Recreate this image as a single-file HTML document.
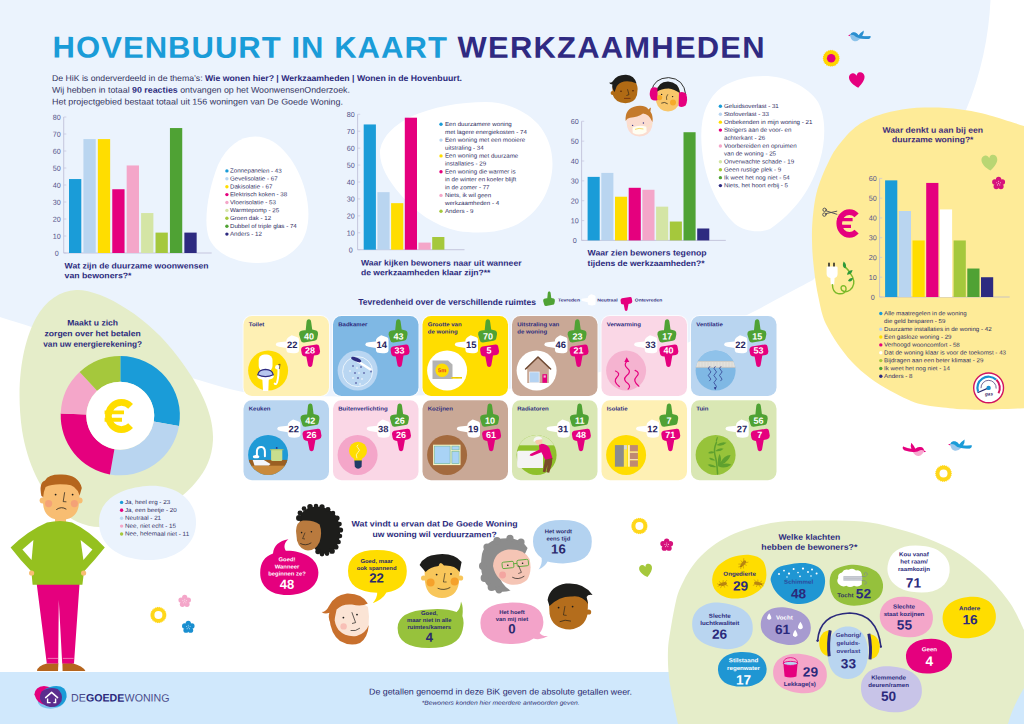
<!DOCTYPE html>
<html lang="nl"><head><meta charset="utf-8"><title>Hovenbuurt in kaart - Werkzaamheden</title>
<style>
html,body{margin:0;padding:0;background:#fff}
body{width:1024px;height:724px;overflow:hidden;position:relative;font-family:"Liberation Sans",sans-serif}
#pg{position:absolute;left:0;top:0;width:1024px;height:724px;overflow:hidden}
#pg svg{position:absolute;left:0;top:0}
.t{position:absolute;white-space:nowrap;transform-origin:0 50%;font-family:"Liberation Sans",sans-serif}
</style></head><body><div id="pg">
<svg width="1024" height="724" viewBox="0 0 1024 724">
<path d="M0 0H990.5C989 35 981 75 966 110L813 280C807.6 282.9 791.3 291.5 780.5 297.3C769.7 303.1 761.4 307.8 748.0 314.6C734.6 321.4 724.7 328.4 700.0 338.0C675.3 347.6 633.3 363.3 600.0 372.0C566.7 380.7 533.3 386.0 500.0 390.0C466.7 394.0 433.3 395.0 400.0 396.0C366.7 397.0 326.2 396.7 300.0 396.0C273.8 395.3 266.3 396.7 243.0 392.0C219.7 387.3 187.2 376.3 160.0 368.0C132.8 359.7 106.7 350.5 80.0 342.0C53.3 333.5 13.3 321.2 0.0 317.0Z" fill="#ebf3fd"/>
<path d="M255 136.5C280 136.5 298 165 305 190C311 212 309 232 300 244C290 257 275 263 258 263C235 263 215 253 209 238C203 222 208 190 218 165C227 146 240 136.5 255 136.5Z" fill="#fff"/>
<path d="M486 102C505 102 525 110 538 124C550 138 554 155 552 172C549 195 537 213 518 224C500 233 478 234 458 231C435 226 415 212 400 194C388 180 379 165 380 150C383 135 395 125 410 117C432 107 460 102 486 102Z" fill="#fff"/>
<path d="M764 76C785 76 808 86 818 102C826 116 826 140 820 160C812 188 795 212 770 229C760 233 745 232 735 224C718 208 705 180 702 150C699 120 705 100 722 87C735 79 750 76 764 76Z" fill="#fff"/>
<path d="M1030.0 128.0C1023.3 125.9 1001.5 118.5 990.0 115.4C978.5 112.3 970.5 110.8 960.7 109.5C950.9 108.2 941.2 107.6 931.4 107.6C921.6 107.6 911.8 107.9 902.0 109.5C892.2 111.1 880.9 114.0 872.8 117.3C864.7 120.5 859.3 123.9 853.3 129.0C847.2 134.1 840.5 142.7 836.5 148.0C832.5 153.3 831.4 156.2 829.0 161.0C826.6 165.8 824.1 171.2 822.0 176.6C819.9 181.9 817.9 187.6 816.5 193.1C815.1 198.6 814.3 204.4 813.6 209.7C812.9 215.0 812.5 219.9 812.2 225.0C811.9 230.1 811.9 234.4 812.0 240.0C812.1 245.6 812.3 251.5 812.9 258.3C813.5 265.1 814.5 274.1 815.5 281.0C816.5 287.9 817.8 294.3 819.0 300.0C820.2 305.7 821.2 310.7 822.5 315.0C823.8 319.3 824.5 321.2 827.0 326.0C829.5 330.8 833.5 337.9 837.7 343.9C841.9 349.9 846.6 356.2 852.0 361.9C857.4 367.6 863.7 373.2 870.0 378.0C876.3 382.8 883.5 387.0 889.8 390.6C896.1 394.2 902.8 397.4 907.8 399.6C912.8 401.8 914.1 402.7 920.0 404.0C925.9 405.3 933.9 406.6 943.0 407.5C952.1 408.4 960.3 409.6 974.8 409.7C989.3 409.8 1020.8 408.3 1030.0 408.0Z" fill="#feeb98"/>
<path d="M76 290C102 289 150 318 178 357C200 386 214 414 213 440C212 458 206 470 196 482C176 506 140 526 100 527C60 527 30 481 22 430C15 380 24 340 36 318C46 300 60 291 76 290Z" fill="#e5edc9"/>
<rect x="0" y="672" width="1024" height="52" fill="#d0e8fc"/>
<path d="M678.0 724.0C677.5 721.7 676.2 715.7 675.0 710.0C673.8 704.3 672.1 696.3 671.0 690.0C669.9 683.7 669.0 678.7 668.5 672.0C668.0 665.3 667.7 657.0 668.0 650.0C668.3 643.0 669.1 638.3 670.5 630.0C671.9 621.7 674.3 607.6 676.2 600.0C678.1 592.4 679.5 589.6 681.8 584.6C684.1 579.6 686.7 574.5 689.9 569.7C693.1 564.9 696.6 560.4 701.0 556.0C705.4 551.6 710.4 547.3 716.0 543.6C721.6 539.9 727.8 536.5 734.6 533.6C741.4 530.7 749.4 528.2 757.0 526.2C764.6 524.2 772.2 522.7 780.0 521.8C787.8 520.9 794.3 521.0 804.0 520.8C813.7 520.6 827.0 520.3 838.0 520.6C849.0 520.9 859.7 521.0 870.0 522.5C880.3 524.0 890.2 526.8 900.0 529.5C909.8 532.2 919.2 535.1 928.8 539.0C938.4 542.9 948.2 547.0 957.7 553.0C967.2 559.0 977.3 566.7 986.0 575.0C994.7 583.3 1003.7 593.8 1010.0 603.0C1016.3 612.2 1021.7 625.5 1024.0 630.0V688C1018 698 1011 712 1008 724Z" fill="#e5edc9"/>
<path d="M147 486C176 484 197 500 196 524C195 548 172 561 146 560C118 559 99 545 99 522C99 500 120 488 147 486Z" fill="#ebf3fd"/>
<path d="M63.7 117V253H211.7" fill="none" stroke="#b4b3d0" stroke-width="0.7"/>
<path d="M63.7 253.00h2.6" stroke="#c4c3dc" stroke-width="0.7"/>
<path d="M63.7 236.00h2.6" stroke="#c4c3dc" stroke-width="0.7"/>
<path d="M63.7 219.00h2.6" stroke="#c4c3dc" stroke-width="0.7"/>
<path d="M63.7 202.00h2.6" stroke="#c4c3dc" stroke-width="0.7"/>
<path d="M63.7 185.00h2.6" stroke="#c4c3dc" stroke-width="0.7"/>
<path d="M63.7 168.00h2.6" stroke="#c4c3dc" stroke-width="0.7"/>
<path d="M63.7 151.00h2.6" stroke="#c4c3dc" stroke-width="0.7"/>
<path d="M63.7 134.00h2.6" stroke="#c4c3dc" stroke-width="0.7"/>
<path d="M63.7 117.00h2.6" stroke="#c4c3dc" stroke-width="0.7"/>
<rect x="69.00" y="179.05" width="12.3" height="73.95" fill="#1a9cd8"/>
<rect x="83.42" y="139.10" width="12.3" height="113.90" fill="#b9d5f0"/>
<rect x="97.84" y="139.10" width="12.3" height="113.90" fill="#ffdd00"/>
<rect x="112.26" y="189.25" width="12.3" height="63.75" fill="#e5007e"/>
<rect x="126.68" y="165.45" width="12.3" height="87.55" fill="#f4a6c9"/>
<rect x="141.10" y="213.05" width="12.3" height="39.95" fill="#d4e5a5"/>
<rect x="155.52" y="232.60" width="12.3" height="20.40" fill="#a5c83c"/>
<rect x="169.94" y="128.05" width="12.3" height="124.95" fill="#4fa234"/>
<rect x="184.36" y="232.60" width="12.3" height="20.40" fill="#2d2a80"/>
<circle cx="226.9" cy="170.90" r="1.7" fill="#1a9cd8"/>
<circle cx="226.9" cy="178.80" r="1.7" fill="#b9d5f0"/>
<circle cx="226.9" cy="186.70" r="1.7" fill="#ffdd00"/>
<circle cx="226.9" cy="194.60" r="1.7" fill="#e5007e"/>
<circle cx="226.9" cy="202.50" r="1.7" fill="#f4a6c9"/>
<circle cx="226.9" cy="210.40" r="1.7" fill="#d4e5a5"/>
<circle cx="226.9" cy="218.30" r="1.7" fill="#a5c83c"/>
<circle cx="226.9" cy="226.20" r="1.7" fill="#4fa234"/>
<circle cx="226.9" cy="234.10" r="1.7" fill="#2d2a80"/>
<path d="M357.6 114.3V249.7H464.5" fill="none" stroke="#b4b3d0" stroke-width="0.7"/>
<path d="M357.6 249.70h2.6" stroke="#c4c3dc" stroke-width="0.7"/>
<path d="M357.6 232.77h2.6" stroke="#c4c3dc" stroke-width="0.7"/>
<path d="M357.6 215.85h2.6" stroke="#c4c3dc" stroke-width="0.7"/>
<path d="M357.6 198.92h2.6" stroke="#c4c3dc" stroke-width="0.7"/>
<path d="M357.6 182.00h2.6" stroke="#c4c3dc" stroke-width="0.7"/>
<path d="M357.6 165.07h2.6" stroke="#c4c3dc" stroke-width="0.7"/>
<path d="M357.6 148.15h2.6" stroke="#c4c3dc" stroke-width="0.7"/>
<path d="M357.6 131.22h2.6" stroke="#c4c3dc" stroke-width="0.7"/>
<path d="M357.6 114.30h2.6" stroke="#c4c3dc" stroke-width="0.7"/>
<rect x="363.70" y="124.45" width="12.2" height="125.24" fill="#1a9cd8"/>
<rect x="377.40" y="192.16" width="12.2" height="57.54" fill="#b9d5f0"/>
<rect x="391.10" y="203.16" width="12.2" height="46.54" fill="#ffdd00"/>
<rect x="404.80" y="117.69" width="12.2" height="132.01" fill="#e5007e"/>
<rect x="418.50" y="242.59" width="12.2" height="7.11" fill="#f4a6c9"/>
<rect x="432.20" y="237.01" width="12.2" height="12.69" fill="#a5c83c"/>
<circle cx="441" cy="124.30" r="1.7" fill="#1a9cd8"/>
<circle cx="441" cy="140.10" r="1.7" fill="#b9d5f0"/>
<circle cx="441" cy="155.90" r="1.7" fill="#ffdd00"/>
<circle cx="441" cy="171.70" r="1.7" fill="#e5007e"/>
<circle cx="441" cy="195.40" r="1.7" fill="#f4a6c9"/>
<circle cx="441" cy="211.20" r="1.7" fill="#a5c83c"/>
<path d="M581.6 121.3V240.4H725.8" fill="none" stroke="#b4b3d0" stroke-width="0.7"/>
<path d="M581.6 240.40h2.6" stroke="#c4c3dc" stroke-width="0.7"/>
<path d="M581.6 220.55h2.6" stroke="#c4c3dc" stroke-width="0.7"/>
<path d="M581.6 200.70h2.6" stroke="#c4c3dc" stroke-width="0.7"/>
<path d="M581.6 180.85h2.6" stroke="#c4c3dc" stroke-width="0.7"/>
<path d="M581.6 161.00h2.6" stroke="#c4c3dc" stroke-width="0.7"/>
<path d="M581.6 141.15h2.6" stroke="#c4c3dc" stroke-width="0.7"/>
<path d="M581.6 121.30h2.6" stroke="#c4c3dc" stroke-width="0.7"/>
<rect x="587.60" y="176.88" width="12.1" height="63.52" fill="#1a9cd8"/>
<rect x="601.30" y="172.91" width="12.1" height="67.49" fill="#b9d5f0"/>
<rect x="615.00" y="196.73" width="12.1" height="43.67" fill="#ffdd00"/>
<rect x="628.70" y="187.80" width="12.1" height="52.60" fill="#e5007e"/>
<rect x="642.40" y="189.78" width="12.1" height="50.62" fill="#f4a6c9"/>
<rect x="656.10" y="206.66" width="12.1" height="33.75" fill="#d4e5a5"/>
<rect x="669.80" y="221.54" width="12.1" height="18.86" fill="#a5c83c"/>
<rect x="683.50" y="132.22" width="12.1" height="108.18" fill="#4fa234"/>
<rect x="697.20" y="228.49" width="12.1" height="11.91" fill="#2d2a80"/>
<circle cx="720.4" cy="106.30" r="1.7" fill="#1a9cd8"/>
<circle cx="720.4" cy="114.23" r="1.7" fill="#b9d5f0"/>
<circle cx="720.4" cy="122.16" r="1.7" fill="#ffdd00"/>
<circle cx="720.4" cy="130.09" r="1.7" fill="#e5007e"/>
<circle cx="720.4" cy="145.95" r="1.7" fill="#f4a6c9"/>
<circle cx="720.4" cy="161.81" r="1.7" fill="#d4e5a5"/>
<circle cx="720.4" cy="169.74" r="1.7" fill="#a5c83c"/>
<circle cx="720.4" cy="177.67" r="1.7" fill="#4fa234"/>
<circle cx="720.4" cy="185.60" r="1.7" fill="#2d2a80"/>
<path d="M879.6 178.4V297H1009.7" fill="none" stroke="#b4b3d0" stroke-width="0.7"/>
<path d="M879.6 297.00h2.6" stroke="#c4c3dc" stroke-width="0.7"/>
<path d="M879.6 277.23h2.6" stroke="#c4c3dc" stroke-width="0.7"/>
<path d="M879.6 257.46h2.6" stroke="#c4c3dc" stroke-width="0.7"/>
<path d="M879.6 237.69h2.6" stroke="#c4c3dc" stroke-width="0.7"/>
<path d="M879.6 217.92h2.6" stroke="#c4c3dc" stroke-width="0.7"/>
<path d="M879.6 198.15h2.6" stroke="#c4c3dc" stroke-width="0.7"/>
<path d="M879.6 178.38h2.6" stroke="#c4c3dc" stroke-width="0.7"/>
<rect x="885.10" y="180.36" width="12.2" height="116.64" fill="#1a9cd8"/>
<rect x="898.80" y="211.00" width="12.2" height="86.00" fill="#b9d5f0"/>
<rect x="912.50" y="240.46" width="12.2" height="56.54" fill="#ffdd00"/>
<rect x="926.20" y="182.93" width="12.2" height="114.07" fill="#e5007e"/>
<rect x="939.90" y="209.42" width="12.2" height="87.58" fill="#fff"/>
<rect x="953.60" y="240.46" width="12.2" height="56.54" fill="#a5c83c"/>
<rect x="967.30" y="268.53" width="12.2" height="28.47" fill="#4fa234"/>
<rect x="981.00" y="277.23" width="12.2" height="19.77" fill="#2d2a80"/>
<circle cx="880.8" cy="313.50" r="1.7" fill="#1a9cd8"/>
<circle cx="880.8" cy="329.20" r="1.7" fill="#b9d5f0"/>
<circle cx="880.8" cy="337.05" r="1.7" fill="#ffdd00"/>
<circle cx="880.8" cy="344.90" r="1.7" fill="#e5007e"/>
<circle cx="880.8" cy="352.75" r="1.7" fill="#fff"/>
<circle cx="880.8" cy="360.60" r="1.7" fill="#a5c83c"/>
<circle cx="880.8" cy="368.45" r="1.7" fill="#4fa234"/>
<circle cx="880.8" cy="376.30" r="1.7" fill="#2d2a80"/>
<rect x="242.6" y="315.1" width="87.3" height="81.8" rx="9.4" fill="#fff" opacity="0.75"/>
<rect x="243.5" y="316" width="85.5" height="80" rx="8.5" fill="#fef0b4"/>
<g transform="translate(243.5 316)"><path d="M44.4 21.8Q46 20.4 48.2 19.2Q51 20 54.4 21.4Q55.6 22.2 55.5 24L55.5 34.4Q55.3 36.4 53.8 36.8Q49.4 38 44.2 36.6Q42.6 35.4 42.8 32L35.6 30.7Q32.1 30.1 32.3 28.3Q32.6 26.3 35.6 26.2L42.8 25.5Q42.8 23 44.4 21.8Z" fill="#fff"/><path d="M57.2 15Q59.5 14 62.2 14.3L63 6.2C63.1 4.4 64 3.3 65.4 3.3C66.8 3.3 67.6 4.4 67.7 6.2L68.7 13.6L72.6 14.6Q74.7 15.2 74.5 18.4L73.7 22.6Q73.3 24.4 71 24.7L60.5 26.5Q57.8 26.7 57.2 24L55.6 18.4Q55.4 15.8 57.2 15Z" fill="#4fa234"/><path d="M60 30.4L73 28.5Q75.4 28.3 75.7 30.5L76.6 35.4Q76.5 38.4 74 38.9L70.5 39.6L69 48.2C68.8 49.9 68 50.9 66.7 50.9C65.3 50.9 64.5 49.9 64.3 48.2L62.8 40.6L60.5 40.2Q58.4 39.8 58.2 37.5L57.6 34Q57.5 31 60 30.4Z" fill="#e5007e"/></g>
<g transform="translate(243.5 316)"><clipPath id="cl0"><circle cx="24.6" cy="54.6" r="20"/></clipPath><circle cx="24.6" cy="54.6" r="20" fill="#ffdd00"/><rect x="15.2" y="38.6" width="13.8" height="17" rx="5.5" fill="#fff"/><path d="M18.6 60H25.4L24.8 75H19.6Z" fill="#fff"/><ellipse cx="22" cy="60.4" rx="8.2" ry="3.6" fill="#fff"/><path d="M14.2 58.8Q15.5 53.6 22 53.4Q28.5 53.6 29.8 58.8Q22 62.5 14.2 58.8Z" fill="#b7c6ee" stroke="#2d2a80" stroke-width="1.1"/><path d="M34.8 50.5Q35.5 60 33.5 66.5Q32.5 69 31.2 67.6" fill="none" stroke="#fff" stroke-width="2" stroke-linecap="round"/><circle cx="33.8" cy="51.2" r="2.2" fill="#fff"/><path d="M34.6 48.8L36.6 48.2L35.8 53" fill="none" stroke="#3b2a5a" stroke-width="0.7"/></g>
<rect x="332.1" y="315.1" width="87.3" height="81.8" rx="9.4" fill="#fff" opacity="0.75"/>
<rect x="333.0" y="316" width="85.5" height="80" rx="8.5" fill="#7fb8e4"/>
<g transform="translate(333.0 316)"><path d="M44.4 21.8Q46 20.4 48.2 19.2Q51 20 54.4 21.4Q55.6 22.2 55.5 24L55.5 34.4Q55.3 36.4 53.8 36.8Q49.4 38 44.2 36.6Q42.6 35.4 42.8 32L35.6 30.7Q32.1 30.1 32.3 28.3Q32.6 26.3 35.6 26.2L42.8 25.5Q42.8 23 44.4 21.8Z" fill="#fff"/><path d="M57.2 15Q59.5 14 62.2 14.3L63 6.2C63.1 4.4 64 3.3 65.4 3.3C66.8 3.3 67.6 4.4 67.7 6.2L68.7 13.6L72.6 14.6Q74.7 15.2 74.5 18.4L73.7 22.6Q73.3 24.4 71 24.7L60.5 26.5Q57.8 26.7 57.2 24L55.6 18.4Q55.4 15.8 57.2 15Z" fill="#4fa234"/><path d="M60 30.4L73 28.5Q75.4 28.3 75.7 30.5L76.6 35.4Q76.5 38.4 74 38.9L70.5 39.6L69 48.2C68.8 49.9 68 50.9 66.7 50.9C65.3 50.9 64.5 49.9 64.3 48.2L62.8 40.6L60.5 40.2Q58.4 39.8 58.2 37.5L57.6 34Q57.5 31 60 30.4Z" fill="#e5007e"/></g>
<g transform="translate(333.0 316)"><clipPath id="cl1"><circle cx="24.6" cy="54.6" r="20"/></clipPath><circle cx="24.6" cy="54.6" r="20" fill="#b9d6f2"/><circle cx="24.6" cy="55.6" r="15" fill="none" stroke="#eef6fd" stroke-width="0.9"/><path d="M22 43.5L37.5 53.5" stroke="#fff" stroke-width="2.4" stroke-linecap="round"/><ellipse cx="23.2" cy="43.6" rx="5.4" ry="1.9" transform="rotate(22 23.2 43.6)" fill="#2d2a80"/><ellipse cx="20" cy="50" rx="0.55" ry="1" fill="#2d2a80"/><ellipse cx="24" cy="52" rx="0.55" ry="1" fill="#fff"/><ellipse cx="28" cy="51" rx="0.55" ry="1" fill="#2d2a80"/><ellipse cx="17" cy="55" rx="0.55" ry="1" fill="#fff"/><ellipse cx="22" cy="57" rx="0.55" ry="1" fill="#2d2a80"/><ellipse cx="26" cy="57" rx="0.55" ry="1" fill="#fff"/><ellipse cx="31" cy="57" rx="0.55" ry="1" fill="#2d2a80"/><ellipse cx="20" cy="62" rx="0.55" ry="1" fill="#fff"/><ellipse cx="25" cy="62" rx="0.55" ry="1" fill="#2d2a80"/><ellipse cx="29" cy="63" rx="0.55" ry="1" fill="#fff"/><ellipse cx="23" cy="67" rx="0.55" ry="1" fill="#2d2a80"/><ellipse cx="27" cy="68" rx="0.55" ry="1" fill="#fff"/><ellipse cx="38" cy="55.5" rx="0.55" ry="1" fill="#2d2a80"/></g>
<rect x="421.6" y="315.1" width="87.3" height="81.8" rx="9.4" fill="#fff" opacity="0.75"/>
<rect x="422.5" y="316" width="85.5" height="80" rx="8.5" fill="#ffdd00"/>
<g transform="translate(422.5 316)"><path d="M44.4 21.8Q46 20.4 48.2 19.2Q51 20 54.4 21.4Q55.6 22.2 55.5 24L55.5 34.4Q55.3 36.4 53.8 36.8Q49.4 38 44.2 36.6Q42.6 35.4 42.8 32L35.6 30.7Q32.1 30.1 32.3 28.3Q32.6 26.3 35.6 26.2L42.8 25.5Q42.8 23 44.4 21.8Z" fill="#fff"/><path d="M57.2 15Q59.5 14 62.2 14.3L63 6.2C63.1 4.4 64 3.3 65.4 3.3C66.8 3.3 67.6 4.4 67.7 6.2L68.7 13.6L72.6 14.6Q74.7 15.2 74.5 18.4L73.7 22.6Q73.3 24.4 71 24.7L60.5 26.5Q57.8 26.7 57.2 24L55.6 18.4Q55.4 15.8 57.2 15Z" fill="#4fa234"/><path d="M60 30.4L73 28.5Q75.4 28.3 75.7 30.5L76.6 35.4Q76.5 38.4 74 38.9L70.5 39.6L69 48.2C68.8 49.9 68 50.9 66.7 50.9C65.3 50.9 64.5 49.9 64.3 48.2L62.8 40.6L60.5 40.2Q58.4 39.8 58.2 37.5L57.6 34Q57.5 31 60 30.4Z" fill="#e5007e"/></g>
<g transform="translate(422.5 316)"><clipPath id="cl2"><circle cx="24.6" cy="54.6" r="20"/></clipPath><circle cx="24.6" cy="54.6" r="20" fill="#fff"/><path d="M10 44.5H25.5L30 48.5V63H10Z" fill="#b3b3b3"/><rect x="29" y="61" width="10.5" height="1.6" fill="#ffdd00"/><path d="M30 61.8h9" stroke="#8a7a20" stroke-width="0.5" stroke-dasharray="0.6 0.6"/><circle cx="19.6" cy="54.2" r="6.7" fill="#ffdd00"/></g>
<rect x="511.1" y="315.1" width="87.3" height="81.8" rx="9.4" fill="#fff" opacity="0.75"/>
<rect x="512.0" y="316" width="85.5" height="80" rx="8.5" fill="#c9a896"/>
<g transform="translate(512.0 316)"><path d="M44.4 21.8Q46 20.4 48.2 19.2Q51 20 54.4 21.4Q55.6 22.2 55.5 24L55.5 34.4Q55.3 36.4 53.8 36.8Q49.4 38 44.2 36.6Q42.6 35.4 42.8 32L35.6 30.7Q32.1 30.1 32.3 28.3Q32.6 26.3 35.6 26.2L42.8 25.5Q42.8 23 44.4 21.8Z" fill="#fff"/><path d="M57.2 15Q59.5 14 62.2 14.3L63 6.2C63.1 4.4 64 3.3 65.4 3.3C66.8 3.3 67.6 4.4 67.7 6.2L68.7 13.6L72.6 14.6Q74.7 15.2 74.5 18.4L73.7 22.6Q73.3 24.4 71 24.7L60.5 26.5Q57.8 26.7 57.2 24L55.6 18.4Q55.4 15.8 57.2 15Z" fill="#4fa234"/><path d="M60 30.4L73 28.5Q75.4 28.3 75.7 30.5L76.6 35.4Q76.5 38.4 74 38.9L70.5 39.6L69 48.2C68.8 49.9 68 50.9 66.7 50.9C65.3 50.9 64.5 49.9 64.3 48.2L62.8 40.6L60.5 40.2Q58.4 39.8 58.2 37.5L57.6 34Q57.5 31 60 30.4Z" fill="#e5007e"/></g>
<g transform="translate(512.0 316)"><clipPath id="cl3"><circle cx="24.6" cy="54.6" r="20"/></clipPath><circle cx="24.6" cy="54.6" r="20" fill="#fff"/><rect x="15.2" y="52" width="21.6" height="15" fill="#c9a896"/><path d="M13.6 53L26 41L38.6 53" fill="#c9a896" stroke="#6f4a33" stroke-width="1.6" stroke-linejoin="round" stroke-linecap="round"/><rect x="17.6" y="56" width="9.6" height="10.6" fill="#b5d3f2" stroke="#e9eef6" stroke-width="0.8"/><rect x="30.4" y="58.2" width="4.6" height="8.6" fill="#e5007e"/><rect x="31.6" y="59.4" width="2.2" height="2.2" fill="#f6b3d4"/></g>
<rect x="600.6" y="315.1" width="87.3" height="81.8" rx="9.4" fill="#fff" opacity="0.75"/>
<rect x="601.5" y="316" width="85.5" height="80" rx="8.5" fill="#fad7e6"/>
<g transform="translate(601.8 316)"><path d="M44.4 21.8Q46 20.4 48.2 19.2Q51 20 54.4 21.4Q55.6 22.2 55.5 24L55.5 34.4Q55.3 36.4 53.8 36.8Q49.4 38 44.2 36.6Q42.6 35.4 42.8 32L35.6 30.7Q32.1 30.1 32.3 28.3Q32.6 26.3 35.6 26.2L42.8 25.5Q42.8 23 44.4 21.8Z" fill="#fff"/><path d="M57.2 15Q59.5 14 62.2 14.3L63 6.2C63.1 4.4 64 3.3 65.4 3.3C66.8 3.3 67.6 4.4 67.7 6.2L68.7 13.6L72.6 14.6Q74.7 15.2 74.5 18.4L73.7 22.6Q73.3 24.4 71 24.7L60.5 26.5Q57.8 26.7 57.2 24L55.6 18.4Q55.4 15.8 57.2 15Z" fill="#4fa234"/><path d="M60 30.4L73 28.5Q75.4 28.3 75.7 30.5L76.6 35.4Q76.5 38.4 74 38.9L70.5 39.6L69 48.2C68.8 49.9 68 50.9 66.7 50.9C65.3 50.9 64.5 49.9 64.3 48.2L62.8 40.6L60.5 40.2Q58.4 39.8 58.2 37.5L57.6 34Q57.5 31 60 30.4Z" fill="#e5007e"/></g>
<g transform="translate(601.5 316)"><clipPath id="cl4"><circle cx="24.6" cy="54.6" r="20"/></clipPath><circle cx="24.6" cy="54.6" r="20" fill="#f5b3d0"/><path d="M14 55q5.6 2.4 1.4 6.2q-4.4 4.2 2.4 9.4" fill="none" stroke="#e5007e" stroke-width="1.2" stroke-linecap="round"/><path d="M25.4 45.4q-3.6 3.4 0.4 6.8q4.6 3.6 -0.8 7.6q-4.4 4 1.8 8q2.6 2.6 -0.2 5.4" fill="none" stroke="#e5007e" stroke-width="1.2" stroke-linecap="round"/><path d="M33.6 54.4q5.6 2.4 1.4 6.2q-4.4 4.2 2.4 9.6" fill="none" stroke="#e5007e" stroke-width="1.2" stroke-linecap="round"/><path d="M22.8 46L25.2 41.2L27.8 46Z" fill="#e5007e"/></g>
<rect x="690.1" y="315.1" width="87.3" height="81.8" rx="9.4" fill="#fff" opacity="0.75"/>
<rect x="691.0" y="316" width="85.5" height="80" rx="8.5" fill="#b9d5f0"/>
<g transform="translate(691.8 316)"><path d="M44.4 21.8Q46 20.4 48.2 19.2Q51 20 54.4 21.4Q55.6 22.2 55.5 24L55.5 34.4Q55.3 36.4 53.8 36.8Q49.4 38 44.2 36.6Q42.6 35.4 42.8 32L35.6 30.7Q32.1 30.1 32.3 28.3Q32.6 26.3 35.6 26.2L42.8 25.5Q42.8 23 44.4 21.8Z" fill="#fff"/><path d="M57.2 15Q59.5 14 62.2 14.3L63 6.2C63.1 4.4 64 3.3 65.4 3.3C66.8 3.3 67.6 4.4 67.7 6.2L68.7 13.6L72.6 14.6Q74.7 15.2 74.5 18.4L73.7 22.6Q73.3 24.4 71 24.7L60.5 26.5Q57.8 26.7 57.2 24L55.6 18.4Q55.4 15.8 57.2 15Z" fill="#4fa234"/><path d="M60 30.4L73 28.5Q75.4 28.3 75.7 30.5L76.6 35.4Q76.5 38.4 74 38.9L70.5 39.6L69 48.2C68.8 49.9 68 50.9 66.7 50.9C65.3 50.9 64.5 49.9 64.3 48.2L62.8 40.6L60.5 40.2Q58.4 39.8 58.2 37.5L57.6 34Q57.5 31 60 30.4Z" fill="#e5007e"/></g>
<g transform="translate(691.0 316)"><clipPath id="cl5"><circle cx="24.6" cy="54.6" r="20"/></clipPath><circle cx="24.6" cy="54.6" r="20" fill="#7fb8e4"/><g clip-path="url(#cl5)"><rect x="0" y="30" width="50" height="15.6" fill="#8fc2ea"/><rect x="0" y="45" width="50" height="6.6" fill="#e3e1dc"/><path d="M0 45.4H50M0 51.4H50" stroke="#b9b7b3" stroke-width="0.6"/><path d="M5 45v6.4M8 45v6.4M11 45v6.4M14 45v6.4M17 45v6.4M20 45v6.4M23 45v6.4M26 45v6.4M29 45v6.4M32 45v6.4M35 45v6.4M38 45v6.4M41 45v6.4M44 45v6.4" stroke="#cfcdc8" stroke-width="0.5"/></g><path d="M18.6 50.5q-2.6 1.8 0 3.6q2.6 1.8 0 3.6q-2.6 1.8 0 3.6q2.6 1.8 0 3.6" fill="none" stroke="#2d3a8c" stroke-width="0.75" stroke-linecap="round"/><path d="M24.200000000000003 50.5q-2.6 1.8 0 3.6q2.6 1.8 0 3.6q-2.6 1.8 0 3.6q2.6 1.8 0 3.6q-2.6 1.8 0 3.6q2.6 1.8 0 3.6" fill="none" stroke="#2d3a8c" stroke-width="0.75" stroke-linecap="round"/><path d="M29.8 50.5q-2.6 1.8 0 3.6q2.6 1.8 0 3.6q-2.6 1.8 0 3.6q2.6 1.8 0 3.6" fill="none" stroke="#2d3a8c" stroke-width="0.75" stroke-linecap="round"/><path d="M22.8 71.2L24.2 74L25.6 71.2Z" fill="#2d3a8c"/></g>
<rect x="242.6" y="399.40000000000003" width="87.3" height="81.8" rx="9.4" fill="#fff" opacity="0.75"/>
<rect x="243.5" y="400.3" width="85.5" height="80" rx="8.5" fill="#b9d5f0"/>
<g transform="translate(244.9 400.3)"><path d="M44.4 21.8Q46 20.4 48.2 19.2Q51 20 54.4 21.4Q55.6 22.2 55.5 24L55.5 34.4Q55.3 36.4 53.8 36.8Q49.4 38 44.2 36.6Q42.6 35.4 42.8 32L35.6 30.7Q32.1 30.1 32.3 28.3Q32.6 26.3 35.6 26.2L42.8 25.5Q42.8 23 44.4 21.8Z" fill="#fff"/><path d="M57.2 15Q59.5 14 62.2 14.3L63 6.2C63.1 4.4 64 3.3 65.4 3.3C66.8 3.3 67.6 4.4 67.7 6.2L68.7 13.6L72.6 14.6Q74.7 15.2 74.5 18.4L73.7 22.6Q73.3 24.4 71 24.7L60.5 26.5Q57.8 26.7 57.2 24L55.6 18.4Q55.4 15.8 57.2 15Z" fill="#4fa234"/><path d="M60 30.4L73 28.5Q75.4 28.3 75.7 30.5L76.6 35.4Q76.5 38.4 74 38.9L70.5 39.6L69 48.2C68.8 49.9 68 50.9 66.7 50.9C65.3 50.9 64.5 49.9 64.3 48.2L62.8 40.6L60.5 40.2Q58.4 39.8 58.2 37.5L57.6 34Q57.5 31 60 30.4Z" fill="#e5007e"/></g>
<g transform="translate(243.5 400.3)"><clipPath id="cl6"><circle cx="24.6" cy="54.6" r="20"/></clipPath><circle cx="24.6" cy="54.6" r="20" fill="#1f9ad6"/><g clip-path="url(#cl6)"><rect x="0" y="59.6" width="50" height="6.4" fill="#9a5f22"/><rect x="0" y="65.4" width="50" height="12" fill="#c98a3c"/></g><path d="M13.4 56.5V50.5Q13.8 46.4 18 46.6Q21.4 47 21.4 51.5V56" fill="none" stroke="#fff" stroke-width="2" stroke-linecap="round"/><path d="M9.2 59.6H20.4L27 63.6L25.4 65.2H11Z" fill="#f3f6fb"/><ellipse cx="12.6" cy="56.4" rx="3.2" ry="1.6" fill="#fff"/><rect x="27.6" y="49" width="11.2" height="11.8" rx="1.4" fill="#c9de8e"/><path d="M26.8 49.4H39.6" stroke="#a9c46a" stroke-width="1.1" stroke-linecap="round"/><circle cx="33.2" cy="47.6" r="0.9" fill="#2d2a80"/></g>
<rect x="332.1" y="399.40000000000003" width="87.3" height="81.8" rx="9.4" fill="#fff" opacity="0.75"/>
<rect x="333.0" y="400.3" width="85.5" height="80" rx="8.5" fill="#fad7e6"/>
<g transform="translate(334.4 400.3)"><path d="M44.4 21.8Q46 20.4 48.2 19.2Q51 20 54.4 21.4Q55.6 22.2 55.5 24L55.5 34.4Q55.3 36.4 53.8 36.8Q49.4 38 44.2 36.6Q42.6 35.4 42.8 32L35.6 30.7Q32.1 30.1 32.3 28.3Q32.6 26.3 35.6 26.2L42.8 25.5Q42.8 23 44.4 21.8Z" fill="#fff"/><path d="M57.2 15Q59.5 14 62.2 14.3L63 6.2C63.1 4.4 64 3.3 65.4 3.3C66.8 3.3 67.6 4.4 67.7 6.2L68.7 13.6L72.6 14.6Q74.7 15.2 74.5 18.4L73.7 22.6Q73.3 24.4 71 24.7L60.5 26.5Q57.8 26.7 57.2 24L55.6 18.4Q55.4 15.8 57.2 15Z" fill="#4fa234"/><path d="M60 30.4L73 28.5Q75.4 28.3 75.7 30.5L76.6 35.4Q76.5 38.4 74 38.9L70.5 39.6L69 48.2C68.8 49.9 68 50.9 66.7 50.9C65.3 50.9 64.5 49.9 64.3 48.2L62.8 40.6L60.5 40.2Q58.4 39.8 58.2 37.5L57.6 34Q57.5 31 60 30.4Z" fill="#e5007e"/></g>
<g transform="translate(333.0 400.3)"><clipPath id="cl7"><circle cx="24.6" cy="54.6" r="20"/></clipPath><circle cx="24.6" cy="54.6" r="20" fill="#f4a6c9"/><circle cx="25" cy="50.4" r="9" fill="#ffdd00"/><path d="M20.6 57H29.4L28.6 61H21.4Z" fill="#ffdd00"/><path d="M21.4 60.2H28.8L28.6 66.4Q25 70.4 21.8 66.4Z" fill="#1f3a66"/><path d="M24 58Q22 54 25 52Q28 50 25 47.6Q22.6 45.8 25.2 44.4" fill="none" stroke="#fff3a8" stroke-width="1"/></g>
<rect x="421.6" y="399.40000000000003" width="87.3" height="81.8" rx="9.4" fill="#fff" opacity="0.75"/>
<rect x="422.5" y="400.3" width="85.5" height="80" rx="8.5" fill="#c9a896"/>
<g transform="translate(424.5 400.3)"><path d="M44.4 21.8Q46 20.4 48.2 19.2Q51 20 54.4 21.4Q55.6 22.2 55.5 24L55.5 34.4Q55.3 36.4 53.8 36.8Q49.4 38 44.2 36.6Q42.6 35.4 42.8 32L35.6 30.7Q32.1 30.1 32.3 28.3Q32.6 26.3 35.6 26.2L42.8 25.5Q42.8 23 44.4 21.8Z" fill="#fff"/><path d="M57.2 15Q59.5 14 62.2 14.3L63 6.2C63.1 4.4 64 3.3 65.4 3.3C66.8 3.3 67.6 4.4 67.7 6.2L68.7 13.6L72.6 14.6Q74.7 15.2 74.5 18.4L73.7 22.6Q73.3 24.4 71 24.7L60.5 26.5Q57.8 26.7 57.2 24L55.6 18.4Q55.4 15.8 57.2 15Z" fill="#4fa234"/><path d="M60 30.4L73 28.5Q75.4 28.3 75.7 30.5L76.6 35.4Q76.5 38.4 74 38.9L70.5 39.6L69 48.2C68.8 49.9 68 50.9 66.7 50.9C65.3 50.9 64.5 49.9 64.3 48.2L62.8 40.6L60.5 40.2Q58.4 39.8 58.2 37.5L57.6 34Q57.5 31 60 30.4Z" fill="#e5007e"/></g>
<g transform="translate(422.5 400.3)"><clipPath id="cl8"><circle cx="24.6" cy="54.6" r="20"/></clipPath><circle cx="24.6" cy="54.6" r="20" fill="#a36a3e"/><rect x="10.6" y="44.4" width="27.4" height="20.4" fill="#f6f3c6"/><rect x="12" y="45.8" width="15.6" height="17.6" fill="#a9d3f5" stroke="#6fb59a" stroke-width="0.6"/><rect x="29.4" y="45.8" width="7.2" height="3.8" fill="#a9d3f5" stroke="#6fb59a" stroke-width="0.6"/><rect x="29.4" y="51.2" width="7.2" height="12.2" fill="#a9d3f5" stroke="#6fb59a" stroke-width="0.6"/></g>
<rect x="511.1" y="399.40000000000003" width="87.3" height="81.8" rx="9.4" fill="#fff" opacity="0.75"/>
<rect x="512.0" y="400.3" width="85.5" height="80" rx="8.5" fill="#d9e7b4"/>
<g transform="translate(514.3 400.3)"><path d="M44.4 21.8Q46 20.4 48.2 19.2Q51 20 54.4 21.4Q55.6 22.2 55.5 24L55.5 34.4Q55.3 36.4 53.8 36.8Q49.4 38 44.2 36.6Q42.6 35.4 42.8 32L35.6 30.7Q32.1 30.1 32.3 28.3Q32.6 26.3 35.6 26.2L42.8 25.5Q42.8 23 44.4 21.8Z" fill="#fff"/><path d="M57.2 15Q59.5 14 62.2 14.3L63 6.2C63.1 4.4 64 3.3 65.4 3.3C66.8 3.3 67.6 4.4 67.7 6.2L68.7 13.6L72.6 14.6Q74.7 15.2 74.5 18.4L73.7 22.6Q73.3 24.4 71 24.7L60.5 26.5Q57.8 26.7 57.2 24L55.6 18.4Q55.4 15.8 57.2 15Z" fill="#4fa234"/><path d="M60 30.4L73 28.5Q75.4 28.3 75.7 30.5L76.6 35.4Q76.5 38.4 74 38.9L70.5 39.6L69 48.2C68.8 49.9 68 50.9 66.7 50.9C65.3 50.9 64.5 49.9 64.3 48.2L62.8 40.6L60.5 40.2Q58.4 39.8 58.2 37.5L57.6 34Q57.5 31 60 30.4Z" fill="#e5007e"/></g>
<g transform="translate(512.0 400.3)"><clipPath id="cl9"><circle cx="24.6" cy="54.6" r="20"/></clipPath><circle cx="24.6" cy="54.6" r="20" fill="#8fc02b"/><g clip-path="url(#cl9)"><rect x="0" y="34" width="50" height="11" fill="#dbe9b8"/></g><path d="M6.4 50.4Q5.2 50.6 5.2 52V65.6Q5.4 67.6 7.4 67.6H31V50.4Z" fill="#f4f4f4"/><path d="M27 43.6Q33.6 42.6 37.4 47.6L40.6 58.4L33.4 60L29.4 52L20 55.6L17.6 55.2L18.4 53.6L27.4 49.2Z" fill="#e5007e"/><path d="M33 59.4L40.4 57.8L39.8 64L37.2 72.4L34.6 72L35.6 64.4L33.4 72L30.8 71.4Z" fill="#7a4a2a"/><circle cx="26.8" cy="40.8" r="3.6" fill="#f6c9a8"/><path d="M21.4 40.4Q22.2 36 27 36.2Q30 36.6 30.4 39L24.6 39.6L22 41.6Z" fill="#f7f7f7"/></g>
<rect x="600.6" y="399.40000000000003" width="87.3" height="81.8" rx="9.4" fill="#fff" opacity="0.75"/>
<rect x="601.5" y="400.3" width="85.5" height="80" rx="8.5" fill="#fef0b4"/>
<g transform="translate(603.7 400.3)"><path d="M44.4 21.8Q46 20.4 48.2 19.2Q51 20 54.4 21.4Q55.6 22.2 55.5 24L55.5 34.4Q55.3 36.4 53.8 36.8Q49.4 38 44.2 36.6Q42.6 35.4 42.8 32L35.6 30.7Q32.1 30.1 32.3 28.3Q32.6 26.3 35.6 26.2L42.8 25.5Q42.8 23 44.4 21.8Z" fill="#fff"/><path d="M57.2 15Q59.5 14 62.2 14.3L63 6.2C63.1 4.4 64 3.3 65.4 3.3C66.8 3.3 67.6 4.4 67.7 6.2L68.7 13.6L72.6 14.6Q74.7 15.2 74.5 18.4L73.7 22.6Q73.3 24.4 71 24.7L60.5 26.5Q57.8 26.7 57.2 24L55.6 18.4Q55.4 15.8 57.2 15Z" fill="#4fa234"/><path d="M60 30.4L73 28.5Q75.4 28.3 75.7 30.5L76.6 35.4Q76.5 38.4 74 38.9L70.5 39.6L69 48.2C68.8 49.9 68 50.9 66.7 50.9C65.3 50.9 64.5 49.9 64.3 48.2L62.8 40.6L60.5 40.2Q58.4 39.8 58.2 37.5L57.6 34Q57.5 31 60 30.4Z" fill="#e5007e"/></g>
<g transform="translate(601.5 400.3)"><clipPath id="cl10"><circle cx="24.6" cy="54.6" r="20"/></clipPath><circle cx="24.6" cy="54.6" r="20" fill="#ffdd00"/><rect x="13.4" y="44.8" width="9" height="21.6" fill="#8c8c8c"/><rect x="22.4" y="44.8" width="3" height="4.6" fill="#d9d9d9"/><rect x="22.4" y="49.4" width="3" height="17" fill="#ffe74a"/><rect x="26.4" y="44.8" width="2" height="21.6" fill="#fff4b8"/><rect x="28.4" y="44.8" width="8" height="6.4" fill="#c08a72"/><rect x="28.4" y="52.4" width="8" height="6.4" fill="#c08a72"/><rect x="28.4" y="60" width="8" height="6.4" fill="#c08a72"/><path d="M28.4 51.8h8M28.4 59.4h8" stroke="#f3e0b8" stroke-width="1.2"/></g>
<rect x="690.1" y="399.40000000000003" width="87.3" height="81.8" rx="9.4" fill="#fff" opacity="0.75"/>
<rect x="691.0" y="400.3" width="85.5" height="80" rx="8.5" fill="#d9e7b4"/>
<g transform="translate(693.2 400.3)"><path d="M44.4 21.8Q46 20.4 48.2 19.2Q51 20 54.4 21.4Q55.6 22.2 55.5 24L55.5 34.4Q55.3 36.4 53.8 36.8Q49.4 38 44.2 36.6Q42.6 35.4 42.8 32L35.6 30.7Q32.1 30.1 32.3 28.3Q32.6 26.3 35.6 26.2L42.8 25.5Q42.8 23 44.4 21.8Z" fill="#fff"/><path d="M57.2 15Q59.5 14 62.2 14.3L63 6.2C63.1 4.4 64 3.3 65.4 3.3C66.8 3.3 67.6 4.4 67.7 6.2L68.7 13.6L72.6 14.6Q74.7 15.2 74.5 18.4L73.7 22.6Q73.3 24.4 71 24.7L60.5 26.5Q57.8 26.7 57.2 24L55.6 18.4Q55.4 15.8 57.2 15Z" fill="#4fa234"/><path d="M60 30.4L73 28.5Q75.4 28.3 75.7 30.5L76.6 35.4Q76.5 38.4 74 38.9L70.5 39.6L69 48.2C68.8 49.9 68 50.9 66.7 50.9C65.3 50.9 64.5 49.9 64.3 48.2L62.8 40.6L60.5 40.2Q58.4 39.8 58.2 37.5L57.6 34Q57.5 31 60 30.4Z" fill="#e5007e"/></g>
<g transform="translate(691.0 400.3)"><clipPath id="cl11"><circle cx="24.6" cy="54.6" r="20"/></clipPath><circle cx="24.6" cy="54.6" r="20" fill="#97c33a"/><path d="M26.6 73.6Q26 62 24 55Q22.4 49 25.4 42.2" fill="none" stroke="#5fa02e" stroke-width="1.5" stroke-linecap="round"/><path d="M25 43Q28 36 26 36.6Q24 40 25 43ZM25.4 44.6Q31 40.6 35.6 42.4Q31 46.8 25.4 44.6ZM24.2 50.6Q28 47 32.6 48.4Q29 52 24.2 50.6ZM23.6 51.6Q19 50 17 52.6Q21 54.4 23.6 51.6Z" fill="#5fa02e"/><path d="M27.2 66Q26 58 28.6 53.6Q31 58 29.6 62Q33 55 39.6 54.6Q37.6 60.6 31.4 64Q36 62.4 40.4 64.4Q34 69 27.2 66Z" fill="#5fa02e"/><path d="M25.6 66.6Q20 62.6 16.6 64.4Q20 68 25.6 66.6ZM24.4 60Q20.6 56.6 18 57.6Q20 61 24.4 60Z" fill="#5fa02e"/></g>
<g transform="translate(508.7 289.5) scale(0.62)"><path d="M57.2 15Q59.5 14 62.2 14.3L63 6.2C63.1 4.4 64 3.3 65.4 3.3C66.8 3.3 67.6 4.4 67.7 6.2L68.7 13.6L72.6 14.6Q74.7 15.2 74.5 18.4L73.7 22.6Q73.3 24.4 71 24.7L60.5 26.5Q57.8 26.7 57.2 24L55.6 18.4Q55.4 15.8 57.2 15Z" fill="#4fa234"/></g>
<g transform="translate(561.2 282.3) scale(0.62)"><path d="M44.4 21.8Q46 20.4 48.2 19.2Q51 20 54.4 21.4Q55.6 22.2 55.5 24L55.5 34.4Q55.3 36.4 53.8 36.8Q49.4 38 44.2 36.6Q42.6 35.4 42.8 32L35.6 30.7Q32.1 30.1 32.3 28.3Q32.6 26.3 35.6 26.2L42.8 25.5Q42.8 23 44.4 21.8Z" fill="#fff"/></g>
<g transform="translate(584.8 279.4) scale(0.62)"><path d="M60 30.4L73 28.5Q75.4 28.3 75.7 30.5L76.6 35.4Q76.5 38.4 74 38.9L70.5 39.6L69 48.2C68.8 49.9 68 50.9 66.7 50.9C65.3 50.9 64.5 49.9 64.3 48.2L62.8 40.6L60.5 40.2Q58.4 39.8 58.2 37.5L57.6 34Q57.5 31 60 30.4Z" fill="#e5007e"/></g>
<path d="M120.30 356.10A59.6 59.6 0 0 1 178.99 426.05L153.78 421.60A34 34 0 0 0 120.30 381.70Z" fill="#1a9cd8"/>
<path d="M178.99 426.05A59.6 59.6 0 0 1 109.95 474.39L114.40 449.18A34 34 0 0 0 153.78 421.60Z" fill="#b9d5f0"/>
<path d="M109.95 474.39A59.6 59.6 0 0 1 60.74 413.62L86.32 414.51A34 34 0 0 0 114.40 449.18Z" fill="#e5007e"/>
<path d="M60.74 413.62A59.6 59.6 0 0 1 79.65 372.11L97.11 390.83A34 34 0 0 0 86.32 414.51Z" fill="#f4a6c9"/>
<path d="M79.65 372.11A59.6 59.6 0 0 1 120.30 356.10L120.30 381.70A34 34 0 0 0 97.11 390.83Z" fill="#a5c83c"/>
<circle cx="120.3" cy="415.7" r="34" fill="#fff"/>
<g fill="none" stroke="#ffdd00" stroke-linecap="butt"><path d="M130.6 406.4A13 13.6 0 1 0 130.6 425.6" stroke-width="6.6"/><path d="M104.6 412.4H124M104.6 419.8H122" stroke-width="3.9"/></g>
<circle cx="121.6" cy="502.40" r="1.7" fill="#1a9cd8"/>
<circle cx="121.6" cy="510.30" r="1.7" fill="#e5007e"/>
<circle cx="121.6" cy="518.20" r="1.7" fill="#b9d5f0"/>
<circle cx="121.6" cy="526.10" r="1.7" fill="#f4a6c9"/>
<circle cx="121.6" cy="534.00" r="1.7" fill="#a5c83c"/>
<g><path d="M37 671Q37.6 665.4 47 663.4L58.4 663.2L58 671Z" fill="#b5651d"/><path d="M62.4 663.2L72 663Q83 666 85.4 671H62.6Z" fill="#b5651d"/><path d="M36.6 583H79.6L74 663.6H62.2L58.8 600L58.2 663.6H46.8Z" fill="#e5007e"/><path d="M47.6 658.4H58M62.8 658.4H73.6" stroke="#f7a3cf" stroke-width="0.7"/><rect x="55" y="512" width="11" height="11" fill="#f8bd72"/><path d="M47 522.4Q60.4 519.4 72 522.4Q90 531 104.8 547.6Q95 560 84 571.4L82.4 584.8H32.6L31.4 571.4Q20 560 10.6 547.6Q27 531 47 522.4Z" fill="#95c11f"/><path d="M22.4 549.4L33.4 540L31.6 560Z" fill="#fff"/><path d="M92.4 549.4L80.6 540L83.4 560Z" fill="#fff"/><circle cx="31.6" cy="573" r="2.6" fill="#f8bd72"/><circle cx="83.6" cy="573" r="2.6" fill="#f8bd72"/><circle cx="42.6" cy="500.6" r="3" fill="#f8bd72"/><circle cx="79.6" cy="500.6" r="3" fill="#f8bd72"/><path d="M42.6 494Q42 478 61 477.6Q80 478 79.6 494L79 503Q78 519.6 61 520Q44 519.6 43 503Z" fill="#f8bd72"/><path d="M41.4 496Q38.6 482.6 45 480.4Q48.6 474 62 474.6Q78.6 475 81.8 488L79.6 495.4Q76.4 485 66.4 484.6Q53 483.4 45.6 487Q43.4 492 43.2 497Z" fill="#b5651d"/><circle cx="48.6" cy="503.6" r="3.6" fill="#f39a7a" opacity="0.75"/><circle cx="74.4" cy="503.6" r="3.6" fill="#f39a7a" opacity="0.75"/><circle cx="55.6" cy="494.6" r="0.9" fill="#1d1d1b"/><circle cx="72.6" cy="494.6" r="0.9" fill="#1d1d1b"/><path d="M64.6 492.6L63.2 501.6L66 501.8" fill="none" stroke="#1d1d1b" stroke-width="0.7" stroke-linecap="round" stroke-linejoin="round"/><path d="M56.6 509.4Q61.4 506 66 509" fill="none" stroke="#1d1d1b" stroke-width="0.8" stroke-linecap="round"/></g>
<path d="M273 553.4C273.6 546 279 540.6 288.4 539.2C284.4 542.4 283.4 546.6 285.8 550.8C302 550.4 318.4 558 318.4 572.4C318.4 588 303 595 287 595C270 595 260.2 586 260.2 573C260.2 562 265 556.4 273 553.4Z" fill="#e5007e"/>
<path d="M377 550Q406.8 550 406.8 571Q406.8 589.6 386.4 592.4Q383 599 372.8 603.2Q377.4 597.6 377.2 592.8Q348 591.6 348 571Q348 550 377 550Z" fill="#ffdd00"/>
<path d="M429 609.4Q446 608 456.6 612Q460.4 608.6 461 601.4Q463.6 607 462.4 616Q464.6 622 462.6 630Q459 648 429 648Q397.6 648 397.6 628Q397.6 610.6 429 609.4Z" fill="#97c23c"/>
<path d="M562 520Q591.8 520 591.8 541.6Q591.8 563 563 563.4Q553 563.4 547.6 561.6Q545 566.6 538.6 569.6Q542.6 563.6 541.6 558Q533 552 533 541.6Q533 520 562 520Z" fill="#b3d2f0"/>
<path d="M512.6 602.6Q543 602.6 543.4 622Q543.4 628.6 539.6 633Q542 636.6 548 636Q540.6 640.6 533.6 638.6Q526 644 512.6 644Q480.4 644 480.4 623Q480.4 602.6 512.6 602.6Z" fill="#f3a3c9"/>
<g><path d="M299.6 517Q303 507.6 316 506.6Q330 507 337 517Q342 528 339 541Q336 551 325 553.6Q318.6 554 315 549L300 524Z" fill="#1d1d1b"/><g fill="#1d1d1b"><circle cx="300" cy="513" r="2.46"/><circle cx="304" cy="508.6" r="2.32"/><circle cx="310" cy="506.6" r="2.72"/><circle cx="316" cy="506" r="2.26"/><circle cx="322" cy="507" r="2.63"/><circle cx="328" cy="509.6" r="2.49"/><circle cx="333" cy="513" r="2.25"/><circle cx="337" cy="518" r="2.61"/><circle cx="339.6" cy="524" r="2.23"/><circle cx="340.6" cy="530" r="2.55"/><circle cx="340" cy="536" r="2.26"/><circle cx="338.6" cy="542" r="2.27"/><circle cx="336" cy="547" r="2.54"/><circle cx="332" cy="551" r="2.86"/><circle cx="327" cy="553.6" r="2.30"/><circle cx="322" cy="554" r="2.38"/><circle cx="318" cy="551.6" r="2.70"/><circle cx="299" cy="518" r="2.96"/></g><path d="M296 531Q296.4 521.6 303 520.6Q313 519.6 319.6 524.6Q322.6 533 319.6 542Q315.6 550.6 308 550.6Q299.6 549.6 297 540.6Z" fill="#b97a3e"/><circle cx="301.6" cy="532.6" r="0.8" fill="#1d1d1b"/><circle cx="311.4" cy="531.8" r="0.8" fill="#1d1d1b"/><path d="M305 532.6L302.6 538.6L305 539" fill="none" stroke="#1d1d1b" stroke-width="0.6"/><path d="M300.6 543.6Q305.6 546.4 311 543" fill="none" stroke="#1d1d1b" stroke-width="0.7" stroke-linecap="round"/></g>
<g><path d="M333 618Q333 604 346 602Q360 600.6 368 607Q369.6 616 368.6 625Q366 634.6 357 637Q346 638 338.6 631.4Q333.4 626 333 618Z" fill="#fbe4d5"/><path d="M321.6 612Q326 612 329 606Q334 595 347 593.4Q362 593 367.8 603.4Q362 607 352 604.6Q342 603.6 336.6 609.6L334.4 620L329.8 621.4Q328 616 329.4 612.8Q325 614.6 321.6 612Z" fill="#c8702d"/><path d="M329.4 618Q330.6 634 340 641Q350 646.8 360 643Q367.8 638 368.8 625Q365.4 633.6 356.6 636Q345.6 637.4 338.6 630Q334.6 625 334.2 616.6Z" fill="#c8702d"/><circle cx="343.6" cy="626.4" r="3.2" fill="#f7b9b0" opacity="0.85"/><circle cx="343.4" cy="617.6" r="0.9" fill="#1d1d1b"/><circle cx="357" cy="614.6" r="0.9" fill="#1d1d1b"/><path d="M352 612.6L355.6 622.6L352.4 623.4" fill="none" stroke="#1d1d1b" stroke-width="0.7" stroke-linecap="round" stroke-linejoin="round"/><path d="M351 630.6Q355.6 631.6 359.6 628.4" fill="none" stroke="#1d1d1b" stroke-width="0.7" stroke-linecap="round"/></g>
<g><circle cx="423.6" cy="578" r="2.6" fill="#f8c65a"/><circle cx="460.6" cy="578" r="2.6" fill="#f8c65a"/><path d="M424.6 572Q424 558 442 557.6Q460 558 459.6 572L459 582Q457 597.6 442 598Q427 597.6 425 582Z" fill="#f8c65a"/><path d="M419.6 565Q424 555 437 554.4Q454 552.6 461.6 562L459.6 572Q455 565 444 565.6Q440 560 438.6 566Q430 567 425.6 572Z" fill="#1d1d1b"/><circle cx="430.6" cy="582.6" r="4" fill="#f59a23" opacity="0.85"/><circle cx="454.6" cy="581.6" r="4" fill="#f59a23" opacity="0.85"/><circle cx="436.6" cy="574.6" r="0.9" fill="#1d1d1b"/><circle cx="451" cy="574" r="0.9" fill="#1d1d1b"/><path d="M445 573L443.4 582L446.6 582" fill="none" stroke="#1d1d1b" stroke-width="0.6"/><path d="M438 588.4Q444 591 450 587.6" fill="none" stroke="#1d1d1b" stroke-width="0.7" stroke-linecap="round"/></g>
<g><path d="M482 554Q486 540 502 538.6Q520 536.6 527.6 548L524 556Q514 548 505 552Q497 558 497.6 572Q501 585 510.6 590.6Q499 593.6 490 588Q478 578 482 554Z" fill="#8c8c8c"/><circle cx="483" cy="566" r="4" fill="#8c8c8c"/><circle cx="484.6" cy="578" r="4" fill="#8c8c8c"/><circle cx="491.6" cy="587" r="4" fill="#8c8c8c"/><circle cx="487" cy="547" r="3.6" fill="#8c8c8c"/><circle cx="497" cy="540.6" r="3.6" fill="#8c8c8c"/><circle cx="510" cy="538.4" r="3.6" fill="#8c8c8c"/><circle cx="521" cy="542" r="3.6" fill="#8c8c8c"/><circle cx="499" cy="590" r="3.4" fill="#8c8c8c"/><path d="M493 566Q494 552 508 549.6Q524 548.6 529.6 559Q532.4 572 527 580Q520 586 510 584.6Q496 581 493 566Z" fill="#f5c5b5"/><circle cx="502.6" cy="575" r="3.4" fill="#f29a9a" opacity="0.75"/><g transform="rotate(-6 515 563)" fill="none" stroke="#5aaa3a" stroke-width="0.9"><rect x="502" y="561" width="11.6" height="6.4" rx="1.4"/><rect x="517" y="560.6" width="11.4" height="6.4" rx="1.4"/><path d="M513.6 563.6H517"/></g><circle cx="507.8" cy="565.2" r="0.8" fill="#1d1d1b"/><circle cx="522.6" cy="563.2" r="0.8" fill="#1d1d1b"/><path d="M518.6 565.6L521.4 572.4L518.6 573.4" fill="none" stroke="#1d1d1b" stroke-width="0.6" stroke-linecap="round" stroke-linejoin="round"/><path d="M512.6 577.4Q518 580.4 524 576.4" fill="none" stroke="#1d1d1b" stroke-width="0.7" stroke-linecap="round"/></g>
<g><circle cx="588.6" cy="612" r="2.6" fill="#b46d1c"/><path d="M549 603Q549 590 566 589Q586 588.6 588 603L587.6 614Q585 627.6 570 629.6Q552 628.6 549.6 614Z" fill="#b46d1c"/><path d="M547.6 600Q550 586 566 583.6Q584 582 592.6 595Q588 594 586.6 597L588 604Q582 595 572 596.6Q560 596 549.4 606Z" fill="#1d1d1b"/><circle cx="558.6" cy="607.6" r="0.9" fill="#1d1d1b"/><circle cx="572.6" cy="606.6" r="0.9" fill="#1d1d1b"/><path d="M565 606L563.4 615L566.6 615.4" fill="none" stroke="#1d1d1b" stroke-width="0.6"/><path d="M560 621.6Q565 619 570.6 621" fill="none" stroke="#1d1d1b" stroke-width="0.7" stroke-linecap="round"/></g>
<path d="M712.2 578.9C712.5 574.8 714.3 569.9 717.6 566.3C720.9 562.7 726.6 559.1 732.0 557.2C737.4 555.3 745.1 554.4 750.2 555.0C755.3 555.6 760.1 557.4 762.8 560.8C765.5 564.2 766.5 570.8 766.4 575.3C766.2 579.8 765.2 584.4 761.9 588.0C758.6 591.6 752.2 595.4 746.6 597.0C741.0 598.6 733.6 598.9 728.5 597.9C723.4 596.9 718.5 593.9 715.8 590.7C713.1 587.5 711.9 583.0 712.2 578.9Z" fill="#ffdd00"/>
<path d="M771.0 577.1C771.9 574.4 773.8 570.3 777.3 568.1C780.8 565.9 786.6 564.9 791.7 564.1C796.8 563.3 803.2 562.7 808.0 563.5C812.8 564.3 817.8 566.1 820.6 569.0C823.5 571.9 825.1 576.3 825.1 580.7C825.1 585.1 823.8 591.4 820.6 595.2C817.5 599.0 811.3 602.1 806.2 603.3C801.1 604.5 794.7 604.0 789.9 602.4C785.1 600.8 780.3 596.4 777.3 593.4C774.3 590.4 772.9 587.0 771.9 584.3C770.9 581.6 770.1 579.8 771.0 577.1Z" fill="#1f96d3"/>
<path d="M829.7 584.3C829.4 579.9 830.0 574.8 832.4 571.7C834.8 568.6 839.4 567.0 844.1 565.9C848.8 564.8 855.0 564.4 860.4 565.4C865.8 566.4 872.8 568.6 876.6 571.7C880.4 574.9 882.5 580.1 883.0 584.3C883.5 588.5 882.2 593.7 879.3 597.0C876.4 600.3 871.1 602.9 865.8 604.2C860.5 605.6 853.0 606.2 847.7 605.1C842.4 604.0 837.2 601.4 834.2 597.9C831.2 594.4 830.0 588.7 829.7 584.3Z" fill="#95c13c"/>
<path d="M922.33 545.50C937.88 545.50 949.70 554.43 949.70 567.88C949.70 583.57 937.88 592.50 914.87 592.50C899.32 592.50 887.50 583.57 887.50 570.12C887.50 554.43 899.32 545.50 922.33 545.50Z" fill="#fff" transform="rotate(8 918.6 569.0)"/>
<path d="M717.92 603.00C741.41 603.00 753.00 611.66 753.00 627.17C753.00 639.94 741.41 648.60 727.08 648.60C703.59 648.60 692.00 639.94 692.00 624.43C692.00 611.66 703.59 603.00 717.92 603.00Z" fill="#b9d5f0" transform="rotate(6 722.5 625.8)"/>
<path d="M782.78 607.80C801.42 607.80 811.00 614.75 811.00 627.01C811.00 637.45 801.42 644.40 788.82 644.40C770.18 644.40 760.60 637.45 760.60 625.19C760.60 614.75 770.18 607.80 782.78 607.80Z" fill="#a79bd0" transform="rotate(8 785.8 626.1)"/>
<path d="M847.80 626.60C860.32 626.60 868.00 636.54 868.00 652.75C868.00 668.96 860.32 678.90 847.80 678.90C835.28 678.90 827.60 668.96 827.60 652.75C827.60 636.54 835.28 626.60 847.80 626.60Z" fill="#b9d5f0"/>
<path d="M903.15 597.00C922.87 597.00 933.00 604.60 933.00 617.96C933.00 629.40 922.87 637.00 909.55 637.00C889.83 637.00 879.70 629.40 879.70 616.04C879.70 604.60 889.83 597.00 903.15 597.00Z" fill="#f4a6c9" transform="rotate(4 906.4 617.0)"/>
<path d="M971.97 597.00C985.85 597.00 996.00 604.79 996.00 616.70C996.00 630.21 985.85 638.00 966.63 638.00C952.75 638.00 942.60 630.21 942.60 618.30C942.60 604.79 952.75 597.00 971.97 597.00Z" fill="#ffdd00" transform="rotate(-6 969.3 617.5)"/>
<path d="M926.24 638.70C943.26 638.70 952.00 645.31 952.00 656.93C952.00 666.89 943.26 673.50 931.76 673.50C914.74 673.50 906.00 666.89 906.00 655.27C906.00 645.31 914.74 638.70 926.24 638.70Z" fill="#e5007e" transform="rotate(-8 929.0 656.1)"/>
<path d="M739.38 652.00C757.37 652.00 766.60 658.59 766.60 670.22C766.60 680.11 757.37 686.70 745.22 686.70C727.23 686.70 718.00 680.11 718.00 668.48C718.00 658.59 727.23 652.00 739.38 652.00Z" fill="#1f96d3" transform="rotate(-4 742.3 669.4)"/>
<path d="M797.30 654.00C816.74 654.00 827.00 661.41 827.00 674.31C827.00 685.59 816.74 693.00 802.70 693.00C783.26 693.00 773.00 685.59 773.00 672.69C773.00 661.41 783.26 654.00 797.30 654.00Z" fill="#f4a6c9" transform="rotate(5 800.0 673.5)"/>
<path d="M888.40 666.40C910.39 666.40 922.00 675.06 922.00 690.12C922.00 703.34 910.39 712.00 894.50 712.00C872.51 712.00 860.90 703.34 860.90 688.28C860.90 675.06 872.51 666.40 888.40 666.40Z" fill="#c8c4e8" transform="rotate(4 891.5 689.2)"/>
<path d="M817.6 640.8Q819.6 614 849.8 613Q877.4 614 880.8 646.6" fill="none" stroke="#2b2a7c" stroke-width="1.7" stroke-linecap="round"/><circle cx="817.6" cy="640.6" r="1.2" fill="#2b2a7c"/><circle cx="880.8" cy="646.6" r="1.2" fill="#2b2a7c"/>
<path d="M830.4 630.2Q820 630.6 819.2 643Q819.8 655.6 829.6 656.2Z" fill="#ffdd00"/><path d="M830.2 630.4Q827.6 643 829.2 656.2" fill="none" stroke="#2b2a7c" stroke-width="3"/>
<path d="M868.4 633.8Q879 634.6 879.8 647Q879 658.8 869.6 659.4Z" fill="#ffdd00"/><path d="M868.8 633.8Q871.4 646.6 870 659.4" fill="none" stroke="#2b2a7c" stroke-width="3"/>
<circle cx="779" cy="574" r="1" fill="#fff"/>
<circle cx="784" cy="570.6" r="0.9" fill="#fff"/>
<circle cx="789" cy="573.6" r="1.1" fill="#fff"/>
<circle cx="793.6" cy="569" r="1" fill="#fff"/>
<circle cx="798" cy="572.6" r="0.8" fill="#fff"/>
<circle cx="803" cy="568.6" r="1.1" fill="#fff"/>
<circle cx="808" cy="572" r="0.9" fill="#fff"/>
<circle cx="812" cy="569.6" r="1" fill="#fff"/>
<circle cx="816.6" cy="573.6" r="1" fill="#fff"/>
<circle cx="800" cy="576.4" r="0.8" fill="#fff"/>
<circle cx="787" cy="577" r="0.7" fill="#fff"/>
<circle cx="811" cy="576" r="0.8" fill="#fff"/>
<path d="M769.2 613.2Q771.8000000000001 617.2 771.2 618.6Q769.2 621.0 767.2 618.6Q766.6 617.2 769.2 613.2Z" fill="#fff"/>
<path d="M800.4 621.69Q803.39 626.2900000000001 802.6999999999999 627.9Q800.4 630.66 798.1 627.9Q797.41 626.2900000000001 800.4 621.69Z" fill="#fff"/>
<path d="M795.2 629.66Q798.0600000000001 634.06 797.4000000000001 635.6Q795.2 638.24 793.0 635.6Q792.34 634.06 795.2 629.66Z" fill="#fff"/>
<path d="M838.6 584Q836.2 581 838.2 578Q837.4 573.4 842 572.4Q844 568.4 848.6 569.8Q852.6 567.4 856 570.4Q860.8 569.8 861.8 574.4L861.8 584.6Q858 587.8 854 585.8Q850 588.2 846.4 585.8Q842 587.8 838.6 584Z" fill="#fff"/>
<rect x="843.4" y="576.2" width="18.8" height="4.4" fill="#b4b8c2"/><path d="M843.4 577.7H862.2M843.4 579.2H862.2" stroke="#e9ebf0" stroke-width="0.5"/>
<path d="M862.2 576.6Q866.6 577.4 867.4 574.8Q867.6 572.4 865.4 572.4Q863.8 572.8 864.4 574.4M862.2 580.4Q866 580 866.6 582.6Q866.4 584.6 864.6 584.2" fill="none" stroke="#7d8596" stroke-width="0.6" stroke-linecap="round"/>
<path d="M783.4 663.4H797.6L796.4 676.6Q790.6 678.4 784.6 676.6Z" fill="#e5007e"/><ellipse cx="790.5" cy="663.4" rx="7.1" ry="2" fill="#b9d5f0" stroke="#e5007e" stroke-width="0.9"/><path d="M783.4 663.6Q783 658 790.5 657.6Q798 658 797.6 663.6" fill="none" stroke="#e5007e" stroke-width="0.8"/>
<g transform="translate(743.4 563.4) rotate(-50)"><ellipse cx="0" cy="0" rx="3.6" ry="1.7" fill="#b8860f"/><circle cx="-3.8" cy="0" r="1" fill="#a87a0c"/><path d="M-2 -1.4L-3.8 -3.4M0 -1.6L0.6 -3.8M2 -1.4L4.2 -3M-2 1.4L-3.8 3.4M0 1.6L0.6 3.8M2 1.4L4.2 3M-4.6 -0.4L-6 -1.6M-4.6 0.4L-6 1.6" stroke="#b8860f" stroke-width="0.55"/></g>
<g transform="translate(723.4 584) rotate(-12)"><ellipse cx="0" cy="0" rx="3.6" ry="1.7" fill="#b8860f"/><circle cx="-3.8" cy="0" r="1" fill="#a87a0c"/><path d="M-2 -1.4L-3.8 -3.4M0 -1.6L0.6 -3.8M2 -1.4L4.2 -3M-2 1.4L-3.8 3.4M0 1.6L0.6 3.8M2 1.4L4.2 3M-4.6 -0.4L-6 -1.6M-4.6 0.4L-6 1.6" stroke="#b8860f" stroke-width="0.55"/></g>
<g transform="translate(757.6 583.4) rotate(192)"><ellipse cx="0" cy="0" rx="3.6" ry="1.7" fill="#b8860f"/><circle cx="-3.8" cy="0" r="1" fill="#a87a0c"/><path d="M-2 -1.4L-3.8 -3.4M0 -1.6L0.6 -3.8M2 -1.4L4.2 -3M-2 1.4L-3.8 3.4M0 1.6L0.6 3.8M2 1.4L4.2 3M-4.6 -0.4L-6 -1.6M-4.6 0.4L-6 1.6" stroke="#b8860f" stroke-width="0.55"/></g>
<g><path d="M38 703Q36 694 44 689.6Q54 685.6 62 687.6Q67.6 691 66 699Q63 707.6 53 708.6Q42 709.6 38 703Z" fill="#7cc4ee"/><path d="M34.4 694.6Q35 686.6 44 686Q53 686.6 54.6 693Q55 703.6 47.6 705.6Q37 704.6 34.4 694.6Z" fill="#e5007e"/><path d="M44 690Q52 684.6 60.6 686.4Q67.4 689 66.6 697Q64.6 705.6 56 707Q46 707.6 42.6 701Q40.6 694 44 690Z" fill="#1a9cd8"/><path d="M41.6 691.6Q49 686 57.6 689Q63.6 693.6 61.6 701Q58 707.6 50 707Q42 705.6 40 699Q39.6 694.6 41.6 691.6Z" fill="#5b2d8e"/><path d="M45.6 697.6L51.6 692.4L57.6 697.6" fill="none" stroke="#fff" stroke-width="1.5" stroke-linecap="round" stroke-linejoin="round"/><path d="M47.6 698.4V702.6H50.6M53.4 702.6H55.6V698.4" fill="none" stroke="#fff" stroke-width="1.4"/></g>
<g transform="translate(847.6 30) rotate(0) scale(0.95)"><path d="M0.4 5.6L3 4.8L2.8 6.6Z" fill="#e5007e"/><path d="M2.6 5.2Q4 1.2 8 2.6Q10 3.4 11.6 5.4Q17 7 24 6.2Q24.6 8.6 22 9.4Q16 9.6 13.6 9Q10 12.6 6.6 11.6Q3 10 2.6 5.2Z" fill="#8cc3ea"/><path d="M2.6 5.2Q4 1.2 8 2.6Q10 3.4 11.6 5.4Q13.6 2.6 17 0.4Q17.4 3.6 15.4 6.4Q20 7 24 6.2Q24.6 8.6 22 9.4Q16 9.6 13.4 9Q9 8.6 6.6 5.6Q4.6 4.6 2.6 5.2Z" fill="#2a8fd0"/></g>
<path d="M839.80 58.30L838.88 59.23L839.55 60.36L838.44 61.04L838.81 62.30L837.57 62.70L837.64 64.00L836.33 64.09L836.09 65.38L834.80 65.15L834.25 66.34L833.05 65.82L832.24 66.84L831.20 66.04L830.16 66.84L829.35 65.82L828.15 66.34L827.60 65.15L826.31 65.38L826.07 64.09L824.76 64.00L824.83 62.70L823.59 62.30L823.96 61.04L822.85 60.36L823.52 59.23L822.60 58.30L823.52 57.37L822.85 56.24L823.96 55.56L823.59 54.30L824.83 53.90L824.76 52.60L826.07 52.51L826.31 51.22L827.60 51.45L828.15 50.26L829.35 50.78L830.16 49.76L831.20 50.56L832.24 49.76L833.05 50.78L834.25 50.26L834.80 51.45L836.09 51.22L836.33 52.51L837.64 52.60L837.57 53.90L838.81 54.30L838.44 55.56L839.55 56.24L838.88 57.37Z" fill="#ffd500"/><circle cx="831.2" cy="58.3" r="0" fill="#fff"/>
<circle cx="831.2" cy="58.3" r="4.3" fill="#e5007e"/>
<g transform="translate(849.4 72.6) rotate(-8 7.8 7.6) scale(15.6 15.2)"><path d="M0.5 1C0.2 0.78 0 0.52 0 0.3C0 0.1 0.14 0 0.27 0C0.38 0 0.46 0.07 0.5 0.2C0.54 0.07 0.62 0 0.73 0C0.86 0 1 0.1 1 0.3C1 0.52 0.8 0.78 0.5 1Z" fill="#e5007e"/></g>
<g transform="translate(981.8 155.2) rotate(-6 7.9 7.7) scale(15.8 15.4)"><path d="M0.5 1C0.2 0.78 0 0.52 0 0.3C0 0.1 0.14 0 0.27 0C0.38 0 0.46 0.07 0.5 0.2C0.54 0.07 0.62 0 0.73 0C0.86 0 1 0.1 1 0.3C1 0.52 0.8 0.78 0.5 1Z" fill="#b9d673"/></g>
<g fill="#d6127c"><circle cx="998.60" cy="179.34" r="2.71"/><circle cx="1002.37" cy="182.08" r="2.71"/><circle cx="1000.93" cy="186.50" r="2.71"/><circle cx="996.27" cy="186.50" r="2.71"/><circle cx="994.83" cy="182.08" r="2.71"/><circle cx="998.6" cy="183.3" r="3.30"/></g>
<g fill="#f7b3d6"><circle cx="998.60" cy="181.32" r="0.56"/><circle cx="1000.48" cy="182.69" r="0.56"/><circle cx="999.76" cy="184.90" r="0.56"/><circle cx="997.44" cy="184.90" r="0.56"/><circle cx="996.72" cy="182.69" r="0.56"/><circle cx="998.6" cy="183.3" r="0.66"/></g>
<g transform="translate(904.6 440.6) rotate(14) translate(24.0 0) scale(-1.0 1.0)"><path d="M0.4 5.6L3 4.8L2.8 6.6Z" fill="#e5007e"/><path d="M2.6 5.2Q4 1.2 8 2.6Q10 3.4 11.6 5.4Q17 7 24 6.2Q24.6 8.6 22 9.4Q16 9.6 13.6 9Q10 12.6 6.6 11.6Q3 10 2.6 5.2Z" fill="#f7a8cf"/><path d="M2.6 5.2Q4 1.2 8 2.6Q10 3.4 11.6 5.4Q13.6 2.6 17 0.4Q17.4 3.6 15.4 6.4Q20 7 24 6.2Q24.6 8.6 22 9.4Q16 9.6 13.4 9Q9 8.6 6.6 5.6Q4.6 4.6 2.6 5.2Z" fill="#e5007e"/></g>
<g transform="translate(947.6 439) rotate(0) scale(1.0)"><path d="M0.4 5.6L3 4.8L2.8 6.6Z" fill="#e5007e"/><path d="M2.6 5.2Q4 1.2 8 2.6Q10 3.4 11.6 5.4Q17 7 24 6.2Q24.6 8.6 22 9.4Q16 9.6 13.6 9Q10 12.6 6.6 11.6Q3 10 2.6 5.2Z" fill="#9cc8ec"/><path d="M2.6 5.2Q4 1.2 8 2.6Q10 3.4 11.6 5.4Q13.6 2.6 17 0.4Q17.4 3.6 15.4 6.4Q20 7 24 6.2Q24.6 8.6 22 9.4Q16 9.6 13.4 9Q9 8.6 6.6 5.6Q4.6 4.6 2.6 5.2Z" fill="#1a9cd8"/></g>
<path d="M952.00 473.50L951.09 474.42L951.75 475.53L950.65 476.21L951.03 477.45L949.80 477.85L949.86 479.14L948.57 479.23L948.33 480.50L947.06 480.27L946.51 481.45L945.33 480.93L944.52 481.94L943.50 481.15L942.48 481.94L941.67 480.93L940.49 481.45L939.94 480.27L938.67 480.50L938.43 479.23L937.14 479.14L937.20 477.85L935.97 477.45L936.35 476.21L935.25 475.53L935.91 474.42L935.00 473.50L935.91 472.58L935.25 471.47L936.35 470.79L935.97 469.55L937.20 469.15L937.14 467.86L938.43 467.77L938.67 466.50L939.94 466.73L940.49 465.55L941.67 466.07L942.48 465.06L943.50 465.85L944.52 465.06L945.33 466.07L946.51 465.55L947.06 466.73L948.33 466.50L948.57 467.77L949.86 467.86L949.80 469.15L951.03 469.55L950.65 470.79L951.75 471.47L951.09 472.58Z" fill="#ffd71a"/><circle cx="943.5" cy="473.5" r="4" fill="#fff"/>
<path d="M647.80 526.00L646.90 526.91L647.56 528.01L646.47 528.68L646.84 529.90L645.62 530.29L645.69 531.57L644.41 531.66L644.17 532.91L642.91 532.69L642.38 533.85L641.21 533.34L640.41 534.34L639.40 533.56L638.39 534.34L637.59 533.34L636.42 533.85L635.89 532.69L634.63 532.91L634.39 531.66L633.11 531.57L633.18 530.29L631.96 529.90L632.33 528.68L631.24 528.01L631.90 526.91L631.00 526.00L631.90 525.09L631.24 523.99L632.33 523.32L631.96 522.10L633.18 521.71L633.11 520.43L634.39 520.34L634.63 519.09L635.89 519.31L636.42 518.15L637.59 518.66L638.39 517.66L639.40 518.44L640.41 517.66L641.21 518.66L642.38 518.15L642.91 519.31L644.17 519.09L644.41 520.34L645.69 520.43L645.62 521.71L646.84 522.10L646.47 523.32L647.56 523.99L646.90 525.09Z" fill="#ffd71a"/><circle cx="639.4" cy="526" r="4" fill="#fff"/>
<g fill="#d6127c"><circle cx="666.70" cy="541.10" r="2.67"/><circle cx="670.41" cy="543.79" r="2.67"/><circle cx="668.99" cy="548.16" r="2.67"/><circle cx="664.41" cy="548.16" r="2.67"/><circle cx="662.99" cy="543.79" r="2.67"/><circle cx="666.7" cy="545" r="3.25"/></g>
<g fill="#f7b3d6"><circle cx="666.70" cy="543.05" r="0.55"/><circle cx="668.55" cy="544.40" r="0.55"/><circle cx="667.85" cy="546.58" r="0.55"/><circle cx="665.55" cy="546.58" r="0.55"/><circle cx="664.85" cy="544.40" r="0.55"/><circle cx="666.7" cy="545" r="0.65"/></g>
<g transform="translate(639.6 564.2) rotate(-12 6.5 6.5) scale(13 13)"><path d="M0.5 1C0.2 0.78 0 0.52 0 0.3C0 0.1 0.14 0 0.27 0C0.38 0 0.46 0.07 0.5 0.2C0.54 0.07 0.62 0 0.73 0C0.86 0 1 0.1 1 0.3C1 0.52 0.8 0.78 0.5 1Z" fill="#a5c83c"/></g>
<path d="M166.70 615.00L165.82 615.90L166.46 616.99L165.38 617.65L165.75 618.86L164.55 619.24L164.61 620.50L163.35 620.59L163.11 621.83L161.87 621.61L161.34 622.76L160.19 622.25L159.40 623.24L158.40 622.47L157.40 623.24L156.61 622.25L155.46 622.76L154.93 621.61L153.69 621.83L153.45 620.59L152.19 620.50L152.25 619.24L151.05 618.86L151.42 617.65L150.34 616.99L150.98 615.90L150.10 615.00L150.98 614.10L150.34 613.01L151.42 612.35L151.05 611.14L152.25 610.76L152.19 609.50L153.45 609.41L153.69 608.17L154.93 608.39L155.46 607.24L156.61 607.75L157.40 606.76L158.40 607.53L159.40 606.76L160.19 607.75L161.34 607.24L161.87 608.39L163.11 608.17L163.35 609.41L164.61 609.50L164.55 610.76L165.75 611.14L165.38 612.35L166.46 613.01L165.82 614.10Z" fill="#ffd71a"/><circle cx="158.4" cy="615" r="4" fill="#fff"/>
<g fill="#f4a6c9"><circle cx="184.70" cy="597.36" r="2.62"/><circle cx="188.35" cy="600.01" r="2.62"/><circle cx="186.96" cy="604.31" r="2.62"/><circle cx="182.44" cy="604.31" r="2.62"/><circle cx="181.05" cy="600.01" r="2.62"/><circle cx="184.7" cy="601.2" r="3.20"/></g>
<g fill="#fbd9e8"><circle cx="184.70" cy="599.28" r="0.54"/><circle cx="186.53" cy="600.61" r="0.54"/><circle cx="185.83" cy="602.75" r="0.54"/><circle cx="183.57" cy="602.75" r="0.54"/><circle cx="182.87" cy="600.61" r="0.54"/><circle cx="184.7" cy="601.2" r="0.64"/></g>
<g fill="#1a8fd0"><circle cx="188.30" cy="623.26" r="2.62"/><circle cx="191.95" cy="625.91" r="2.62"/><circle cx="190.56" cy="630.21" r="2.62"/><circle cx="186.04" cy="630.21" r="2.62"/><circle cx="184.65" cy="625.91" r="2.62"/><circle cx="188.3" cy="627.1" r="3.20"/></g>
<g fill="#a9d6f2"><circle cx="188.30" cy="625.18" r="0.54"/><circle cx="190.13" cy="626.51" r="0.54"/><circle cx="189.43" cy="628.65" r="0.54"/><circle cx="187.17" cy="628.65" r="0.54"/><circle cx="186.47" cy="626.51" r="0.54"/><circle cx="188.3" cy="627.1" r="0.64"/></g>
<g fill="none" stroke="#e5007e"><path d="M856.6 215.4A10.2 11.4 0 1 0 856.6 231.6" stroke-width="5.6"/><path d="M837 219.6H852.6M837 226.4H851" stroke-width="3.2"/></g>
<g fill="none" stroke="#4a4a55" stroke-width="0.9" stroke-linecap="round"><circle cx="824.6" cy="209.8" r="1.7"/><circle cx="824.4" cy="214.6" r="1.7"/><path d="M826 210.8L836.6 214.2M826 213.6L836.8 211.2"/></g>
<path d="M837.4 214.4L845 216" stroke="#e5007e" stroke-width="0.5" stroke-dasharray="1 0.8"/>
<path d="M829 263.2V267M834 263.2V267" stroke="#1d1d1b" stroke-width="1.5" stroke-linecap="round"/><path d="M826.6 267.4Q826.4 266.6 827.6 266.6H836.2Q837.6 266.6 837.6 267.8V274Q837.4 277.4 834.6 278L834.2 284.6H830.8L830.4 278Q826.8 277.4 826.6 274Z" fill="#fff"/><path d="M832.4 284.6Q832.6 292.6 838 293.6Q845 294.6 846 289.6Q846.4 285.6 843 285.6Q840 286.4 841.6 290Q845 293.4 850 290Q856 285 852.6 277Q849 270 844 265.6" fill="none" stroke="#7ab929" stroke-width="1.4" stroke-linecap="round"/><path d="M843.6 261.6Q847.4 264.6 845.4 268.6Q841.4 267 843.6 261.6ZM852.6 270Q851.6 275 847 274.6Q847.6 270.4 852.6 270ZM853 278Q849.4 277.4 848 281Q852 282.6 853 278Z" fill="#2e9a3a"/>
<circle cx="988.6" cy="387.9" r="14.9" fill="#fff" stroke="#d1145f" stroke-width="1.4"/>
<path d="M978.08 391.73A11.2 11.2 0 0 1 996.09 379.58" fill="none" stroke="#1a8fd0" stroke-width="2.2"/>
<path d="M996.38 379.84A11.2 11.2 0 0 1 998.49 393.16" fill="none" stroke="#d1145f" stroke-width="2.0"/>
<path d="M981.00 388.17A7.6 7.6 0 1 1 996.17 388.56" fill="none" stroke="#3b2a6a" stroke-width="0.7"/>
<path d="M988.6 387.9L978.0 392.5" stroke="#2b2a6e" stroke-width="1.2" stroke-linecap="round"/><circle cx="988.6" cy="387.9" r="2.2" fill="#1a8fd0"/>
<g><circle cx="612.6" cy="93" r="2" fill="#b06a14"/><path d="M612.4 88Q613 78.6 625 78.4Q637.4 78.6 637.6 89L637 95Q634.6 103 625.6 103.2Q615 102.6 612.8 95Z" fill="#b06a14"/><path d="M609 82.6Q612 83 613 81Q617 74.6 626 74.8Q634.6 75.6 636.6 83.6Q630 80.6 624 81.6Q619 82.6 616.6 86.6L614.6 92Q611.6 88 612.4 84.6Q610 84.6 609 82.6Z" fill="#1d1d1b"/><circle cx="621" cy="91.2" r="0.7" fill="#3a1208"/><circle cx="633" cy="90.8" r="0.7" fill="#3a1208"/><path d="M627.6 89.6L629 94.6L626.8 95.4" fill="none" stroke="#1d1d1b" stroke-width="0.6" stroke-linecap="round"/><path d="M624.4 98.4H630" stroke="#6a2a10" stroke-width="0.8" stroke-linecap="round"/></g>
<g><path d="M651.6 91Q654 78 668.6 77.6Q684 78.6 685.8 95" fill="none" stroke="#1d1d1b" stroke-width="0.9"/><path d="M655.8 95Q656.4 82.6 668 82.4Q680 82.8 680.2 95L679.6 102Q677 111.2 668 111.4Q658.6 111 656.2 102Z" fill="#f8c66a"/><path d="M656.6 92Q657.6 82 668 81.6Q678.6 82 680.4 93.6Q674 88.6 668.6 88.4Q661 88.6 656.6 92Z" fill="#1d1d1b"/><path d="M651 88.6Q653.6 86.4 657.4 88L657.6 100Q654 101.4 651 99Q648.4 94 651 88.6Z" fill="#e5007e"/><path d="M679 92.6Q683 91 686 93.6Q688.4 100 685.6 105.6Q682 108 678.6 106Z" fill="#e5007e"/><circle cx="659.6" cy="97.6" r="2.6" fill="#f5a623" opacity="0.9"/><circle cx="673" cy="102.4" r="3" fill="#f5a623" opacity="0.9"/><circle cx="661.6" cy="94.4" r="0.7" fill="#1d1d1b"/><circle cx="672.6" cy="96.6" r="0.7" fill="#1d1d1b"/><path d="M667.6 94.6Q665.6 97 666.6 99.6" fill="none" stroke="#1d1d1b" stroke-width="0.6" stroke-linecap="round"/><path d="M661.6 103Q664.6 101.4 667.4 103.6" fill="none" stroke="#1d1d1b" stroke-width="0.7" stroke-linecap="round"/></g>
<g><path d="M626.4 121Q627 108 639.6 107.6Q652.4 108 652.8 121L652 127Q649.6 136 639.6 136.4Q629.6 136 627.2 127Z" fill="#fbdcd0"/><path d="M625.6 121Q624.6 108 637 106Q646 105 648.4 109.6Q650 107.6 651 107.4Q650.6 110 650.4 111.6Q653.4 116 652.4 122Q649 114 643 113.6Q637.6 117.6 630 117.8Q627 118 625.6 121Z" fill="#c47a2c"/><circle cx="632.6" cy="125.4" r="0.7" fill="#3a3a8a"/><circle cx="643.4" cy="123" r="0.7" fill="#3a3a8a"/><path d="M632.4 127.6Q639 124.6 646.4 126.8L646.6 132Q640 136.6 632.8 133Z" fill="#fffef2"/><path d="M635 129.4Q639 127.6 643.4 129" fill="none" stroke="#f3dc6a" stroke-width="1"/><path d="M632.6 128L627.6 125M646.4 127L652.4 123.6" stroke="#f6e9b8" stroke-width="0.6"/></g>
<g font-family="Liberation Sans, sans-serif">
<text x="52.60" y="57.62" font-size="30" fill="#1a9cd8" transform="rotate(0.03 52.6 57.6)" font-weight="bold" letter-spacing="1.0" textLength="395.30" lengthAdjust="spacingAndGlyphs">HOVENBUURT IN KAART</text>
<text x="457.60" y="57.62" font-size="30" fill="#2f2a82" transform="rotate(0.03 457.6 57.6)" font-weight="bold" letter-spacing="1.2" textLength="308.20" lengthAdjust="spacingAndGlyphs">WERKZAAMHEDEN</text>
<text x="52" y="80.9" font-size="8.4" fill="#34335f" xml:space="preserve" textLength="410" lengthAdjust="spacingAndGlyphs" transform="rotate(0.03 52 80.9)">De HiK is onderverdeeld in de thema’s: <tspan font-weight="bold" fill="#2b2a7c">Wie wonen hier? | Werkzaamheden | Wonen in de Hovenbuurt.</tspan></text>
<text x="52" y="92.7" font-size="8.4" fill="#34335f" xml:space="preserve" textLength="298" lengthAdjust="spacingAndGlyphs" transform="rotate(0.03 52 92.7)">Wij hebben in totaal <tspan font-weight="bold" fill="#2b2a7c">90 reacties</tspan> ontvangen op het WoonwensenOnderzoek.</text>
<text x="52" y="104.5" font-size="8.4" fill="#34335f" xml:space="preserve" textLength="291" lengthAdjust="spacingAndGlyphs" transform="rotate(0.03 52 104.5)">Het projectgebied bestaat totaal uit 156 woningen van De Goede Woning.</text>
<text x="54.70" y="255.68" font-size="7.2" fill="#55548a" transform="rotate(0.03 54.7 255.7)">0</text>
<text x="52.70" y="238.68" font-size="7.2" fill="#55548a" transform="rotate(0.03 52.7 238.7)">10</text>
<text x="52.70" y="221.68" font-size="7.2" fill="#55548a" transform="rotate(0.03 52.7 221.7)">20</text>
<text x="52.70" y="204.68" font-size="7.2" fill="#55548a" transform="rotate(0.03 52.7 204.7)">30</text>
<text x="52.70" y="187.68" font-size="7.2" fill="#55548a" transform="rotate(0.03 52.7 187.7)">40</text>
<text x="52.70" y="170.68" font-size="7.2" fill="#55548a" transform="rotate(0.03 52.7 170.7)">50</text>
<text x="52.70" y="153.68" font-size="7.2" fill="#55548a" transform="rotate(0.03 52.7 153.7)">60</text>
<text x="52.70" y="136.68" font-size="7.2" fill="#55548a" transform="rotate(0.03 52.7 136.7)">70</text>
<text x="52.70" y="119.68" font-size="7.2" fill="#55548a" transform="rotate(0.03 52.7 119.7)">80</text>
<text x="230.00" y="172.62" font-size="5.9" fill="#2e2d62" transform="rotate(0.03 230.0 172.6)" textLength="51.72" lengthAdjust="spacingAndGlyphs">Zonnepanelen - 43</text>
<text x="230.00" y="180.52" font-size="5.9" fill="#2e2d62" transform="rotate(0.03 230.0 180.5)" textLength="47.59" lengthAdjust="spacingAndGlyphs">Gevelisolatie - 67</text>
<text x="230.00" y="188.42" font-size="5.9" fill="#2e2d62" transform="rotate(0.03 230.0 188.4)" textLength="42.46" lengthAdjust="spacingAndGlyphs">Dakisolatie - 67</text>
<text x="230.00" y="196.32" font-size="5.9" fill="#2e2d62" transform="rotate(0.03 230.0 196.3)" textLength="57.18" lengthAdjust="spacingAndGlyphs">Elektrisch koken - 38</text>
<text x="230.00" y="204.22" font-size="5.9" fill="#2e2d62" transform="rotate(0.03 230.0 204.2)" textLength="45.88" lengthAdjust="spacingAndGlyphs">Vloerisolatie - 53</text>
<text x="230.00" y="212.12" font-size="5.9" fill="#2e2d62" transform="rotate(0.03 230.0 212.1)" textLength="49.07" lengthAdjust="spacingAndGlyphs">Warmtepomp - 25</text>
<text x="230.00" y="220.02" font-size="5.9" fill="#2e2d62" transform="rotate(0.03 230.0 220.0)" textLength="41.09" lengthAdjust="spacingAndGlyphs">Groen dak - 12</text>
<text x="230.00" y="227.92" font-size="5.9" fill="#2e2d62" transform="rotate(0.03 230.0 227.9)" textLength="66.77" lengthAdjust="spacingAndGlyphs">Dubbel of triple glas - 74</text>
<text x="230.00" y="235.82" font-size="5.9" fill="#2e2d62" transform="rotate(0.03 230.0 235.8)" textLength="31.84" lengthAdjust="spacingAndGlyphs">Anders - 12</text>
<text x="64.60" y="268.40" font-size="8" fill="#2b2a7c" transform="rotate(0.03 64.6 268.4)" font-weight="bold" textLength="144.00" lengthAdjust="spacingAndGlyphs">Wat zijn de duurzame woonwensen</text>
<text x="64.60" y="278.20" font-size="8" fill="#2b2a7c" transform="rotate(0.03 64.6 278.2)" font-weight="bold" textLength="66.87" lengthAdjust="spacingAndGlyphs">van bewoners?*</text>
<text x="348.70" y="252.38" font-size="7.2" fill="#55548a" transform="rotate(0.03 348.7 252.4)">0</text>
<text x="346.70" y="235.45" font-size="7.2" fill="#55548a" transform="rotate(0.03 346.7 235.5)">10</text>
<text x="346.70" y="218.53" font-size="7.2" fill="#55548a" transform="rotate(0.03 346.7 218.5)">20</text>
<text x="346.70" y="201.60" font-size="7.2" fill="#55548a" transform="rotate(0.03 346.7 201.6)">30</text>
<text x="346.70" y="184.68" font-size="7.2" fill="#55548a" transform="rotate(0.03 346.7 184.7)">40</text>
<text x="346.70" y="167.75" font-size="7.2" fill="#55548a" transform="rotate(0.03 346.7 167.8)">50</text>
<text x="346.70" y="150.83" font-size="7.2" fill="#55548a" transform="rotate(0.03 346.7 150.8)">60</text>
<text x="346.70" y="133.90" font-size="7.2" fill="#55548a" transform="rotate(0.03 346.7 133.9)">70</text>
<text x="346.70" y="116.98" font-size="7.2" fill="#55548a" transform="rotate(0.03 346.7 117.0)">80</text>
<text x="445.00" y="126.02" font-size="5.9" fill="#2e2d62" transform="rotate(0.03 445.0 126.0)" textLength="66.78" lengthAdjust="spacingAndGlyphs">Een duurzamere woning</text>
<text x="445.00" y="133.92" font-size="5.9" fill="#2e2d62" transform="rotate(0.03 445.0 133.9)" textLength="81.84" lengthAdjust="spacingAndGlyphs">met lagere energiekosten - 74</text>
<text x="445.00" y="141.82" font-size="5.9" fill="#2e2d62" transform="rotate(0.03 445.0 141.8)" textLength="80.13" lengthAdjust="spacingAndGlyphs">Een woning met een mooiere</text>
<text x="445.00" y="149.72" font-size="5.9" fill="#2e2d62" transform="rotate(0.03 445.0 149.7)" textLength="38.69" lengthAdjust="spacingAndGlyphs">uitstraling - 34</text>
<text x="445.00" y="157.62" font-size="5.9" fill="#2e2d62" transform="rotate(0.03 445.0 157.6)" textLength="73.28" lengthAdjust="spacingAndGlyphs">Een woning met duurzame</text>
<text x="445.00" y="165.52" font-size="5.9" fill="#2e2d62" transform="rotate(0.03 445.0 165.5)" textLength="41.09" lengthAdjust="spacingAndGlyphs">installaties - 29</text>
<text x="445.00" y="173.42" font-size="5.9" fill="#2e2d62" transform="rotate(0.03 445.0 173.4)" textLength="70.53" lengthAdjust="spacingAndGlyphs">Een woning die warmer is</text>
<text x="445.00" y="181.32" font-size="5.9" fill="#2e2d62" transform="rotate(0.03 445.0 181.3)" textLength="71.22" lengthAdjust="spacingAndGlyphs">in de winter en koeler blijft</text>
<text x="445.00" y="189.22" font-size="5.9" fill="#2e2d62" transform="rotate(0.03 445.0 189.2)" textLength="44.51" lengthAdjust="spacingAndGlyphs">in de zomer - 77</text>
<text x="445.00" y="197.12" font-size="5.9" fill="#2e2d62" transform="rotate(0.03 445.0 197.1)" textLength="46.22" lengthAdjust="spacingAndGlyphs">Niets, ik wil geen</text>
<text x="445.00" y="205.02" font-size="5.9" fill="#2e2d62" transform="rotate(0.03 445.0 205.0)" textLength="54.10" lengthAdjust="spacingAndGlyphs">werkzaamheden - 4</text>
<text x="445.00" y="212.92" font-size="5.9" fill="#2e2d62" transform="rotate(0.03 445.0 212.9)" textLength="28.42" lengthAdjust="spacingAndGlyphs">Anders - 9</text>
<text x="361.00" y="265.60" font-size="8" fill="#2b2a7c" transform="rotate(0.03 361.0 265.6)" font-weight="bold" textLength="160.50" lengthAdjust="spacingAndGlyphs">Waar kijken bewoners naar uit wanneer</text>
<text x="361.00" y="275.20" font-size="8" fill="#2b2a7c" transform="rotate(0.03 361.0 275.2)" font-weight="bold" textLength="129.40" lengthAdjust="spacingAndGlyphs">de werkzaamheden klaar zijn?**</text>
<text x="572.70" y="243.08" font-size="7.2" fill="#55548a" transform="rotate(0.03 572.7 243.1)">0</text>
<text x="570.70" y="223.23" font-size="7.2" fill="#55548a" transform="rotate(0.03 570.7 223.2)">10</text>
<text x="570.70" y="203.38" font-size="7.2" fill="#55548a" transform="rotate(0.03 570.7 203.4)">20</text>
<text x="570.70" y="183.53" font-size="7.2" fill="#55548a" transform="rotate(0.03 570.7 183.5)">30</text>
<text x="570.70" y="163.68" font-size="7.2" fill="#55548a" transform="rotate(0.03 570.7 163.7)">40</text>
<text x="570.70" y="143.83" font-size="7.2" fill="#55548a" transform="rotate(0.03 570.7 143.8)">50</text>
<text x="570.70" y="123.98" font-size="7.2" fill="#55548a" transform="rotate(0.03 570.7 124.0)">60</text>
<text x="724.00" y="108.02" font-size="5.9" fill="#2e2d62" transform="rotate(0.03 724.0 108.0)" textLength="54.78" lengthAdjust="spacingAndGlyphs">Geluidsoverlast - 31</text>
<text x="724.00" y="115.95" font-size="5.9" fill="#2e2d62" transform="rotate(0.03 724.0 116.0)" textLength="44.85" lengthAdjust="spacingAndGlyphs">Stofoverlast - 33</text>
<text x="724.00" y="123.88" font-size="5.9" fill="#2e2d62" transform="rotate(0.03 724.0 123.9)" textLength="88.35" lengthAdjust="spacingAndGlyphs">Onbekenden in mijn woning - 21</text>
<text x="724.00" y="131.81" font-size="5.9" fill="#2e2d62" transform="rotate(0.03 724.0 131.8)" textLength="67.46" lengthAdjust="spacingAndGlyphs">Steigers aan de voor- en</text>
<text x="724.00" y="139.74" font-size="5.9" fill="#2e2d62" transform="rotate(0.03 724.0 139.7)" textLength="41.09" lengthAdjust="spacingAndGlyphs">achterkant - 26</text>
<text x="724.00" y="147.67" font-size="5.9" fill="#2e2d62" transform="rotate(0.03 724.0 147.7)" textLength="72.61" lengthAdjust="spacingAndGlyphs">Voorbereiden en opruimen</text>
<text x="724.00" y="155.60" font-size="5.9" fill="#2e2d62" transform="rotate(0.03 724.0 155.6)" textLength="52.05" lengthAdjust="spacingAndGlyphs">van de woning - 25</text>
<text x="724.00" y="163.53" font-size="5.9" fill="#2e2d62" transform="rotate(0.03 724.0 163.5)" textLength="70.19" lengthAdjust="spacingAndGlyphs">Onverwachte schade - 19</text>
<text x="724.00" y="171.46" font-size="5.9" fill="#2e2d62" transform="rotate(0.03 724.0 171.5)" textLength="57.18" lengthAdjust="spacingAndGlyphs">Geen rustige plek - 9</text>
<text x="724.00" y="179.39" font-size="5.9" fill="#2e2d62" transform="rotate(0.03 724.0 179.4)" textLength="65.75" lengthAdjust="spacingAndGlyphs">Ik weet het nog niet - 54</text>
<text x="724.00" y="187.32" font-size="5.9" fill="#2e2d62" transform="rotate(0.03 724.0 187.3)" textLength="64.03" lengthAdjust="spacingAndGlyphs">Niets, het hoort erbij - 5</text>
<text x="587.60" y="255.50" font-size="8" fill="#2b2a7c" transform="rotate(0.03 587.6 255.5)" font-weight="bold" textLength="119.00" lengthAdjust="spacingAndGlyphs">Waar zien bewoners tegenop</text>
<text x="587.60" y="266.00" font-size="8" fill="#2b2a7c" transform="rotate(0.03 587.6 266.0)" font-weight="bold" textLength="117.02" lengthAdjust="spacingAndGlyphs">tijdens de werkzaamheden?*</text>
<text x="870.70" y="299.68" font-size="7.2" fill="#55548a" transform="rotate(0.03 870.7 299.7)">0</text>
<text x="868.70" y="279.91" font-size="7.2" fill="#55548a" transform="rotate(0.03 868.7 279.9)">10</text>
<text x="868.70" y="260.14" font-size="7.2" fill="#55548a" transform="rotate(0.03 868.7 260.1)">20</text>
<text x="868.70" y="240.37" font-size="7.2" fill="#55548a" transform="rotate(0.03 868.7 240.4)">30</text>
<text x="868.70" y="220.60" font-size="7.2" fill="#55548a" transform="rotate(0.03 868.7 220.6)">40</text>
<text x="868.70" y="200.83" font-size="7.2" fill="#55548a" transform="rotate(0.03 868.7 200.8)">50</text>
<text x="868.70" y="181.06" font-size="7.2" fill="#55548a" transform="rotate(0.03 868.7 181.1)">60</text>
<text x="884.10" y="315.22" font-size="5.9" fill="#2e2d62" transform="rotate(0.03 884.1 315.2)" textLength="82.53" lengthAdjust="spacingAndGlyphs">Alle maatregelen in de woning</text>
<text x="884.10" y="323.07" font-size="5.9" fill="#2e2d62" transform="rotate(0.03 884.1 323.1)" textLength="61.30" lengthAdjust="spacingAndGlyphs">die geld besparen - 59</text>
<text x="884.10" y="330.92" font-size="5.9" fill="#2e2d62" transform="rotate(0.03 884.1 330.9)" textLength="107.52" lengthAdjust="spacingAndGlyphs">Duurzame installaties in de woning - 42</text>
<text x="884.10" y="338.77" font-size="5.9" fill="#2e2d62" transform="rotate(0.03 884.1 338.8)" textLength="67.46" lengthAdjust="spacingAndGlyphs">Een gasloze woning - 29</text>
<text x="884.10" y="346.62" font-size="5.9" fill="#2e2d62" transform="rotate(0.03 884.1 346.6)" textLength="75.68" lengthAdjust="spacingAndGlyphs">Verhoogd wooncomfort - 58</text>
<text x="884.10" y="354.47" font-size="5.9" fill="#2e2d62" transform="rotate(0.03 884.1 354.5)" textLength="121.89" lengthAdjust="spacingAndGlyphs">Dat de woning klaar is voor de toekomst - 43</text>
<text x="884.10" y="362.32" font-size="5.9" fill="#2e2d62" transform="rotate(0.03 884.1 362.3)" textLength="99.31" lengthAdjust="spacingAndGlyphs">Bijdragen aan een beter klimaat - 29</text>
<text x="884.10" y="370.17" font-size="5.9" fill="#2e2d62" transform="rotate(0.03 884.1 370.2)" textLength="65.75" lengthAdjust="spacingAndGlyphs">Ik weet het nog niet - 14</text>
<text x="884.10" y="378.02" font-size="5.9" fill="#2e2d62" transform="rotate(0.03 884.1 378.0)" textLength="28.42" lengthAdjust="spacingAndGlyphs">Anders - 8</text>
<text x="882.50" y="132.80" font-size="8" fill="#3b2a7a" transform="rotate(0.03 882.5 132.8)" font-weight="bold" textLength="100.60" lengthAdjust="spacingAndGlyphs">Waar denkt u aan bij een</text>
<text x="892.14" y="142.30" font-size="8" fill="#3b2a7a" transform="rotate(0.03 892.1 142.3)" font-weight="bold" textLength="81.32" lengthAdjust="spacingAndGlyphs">duurzame woning?*</text>
<text x="248.70" y="326.28" font-size="5.6" fill="#2b2a7c" transform="rotate(0.03 248.7 326.3)" font-weight="bold" textLength="15.68" lengthAdjust="spacingAndGlyphs">Toilet</text>
<text x="303.89" y="339.40" font-size="9" fill="#fff" transform="rotate(0.03 303.9 339.4)" font-weight="bold">40</text>
<text x="305.09" y="353.60" font-size="9" fill="#fff" transform="rotate(0.03 305.1 353.6)" font-weight="bold">28</text>
<text x="287.07" y="347.93" font-size="9.4" fill="#26245e" transform="rotate(0.03 287.1 347.9)" font-weight="bold">22</text>
<text x="338.20" y="326.28" font-size="5.6" fill="#2b2a7c" transform="rotate(0.03 338.2 326.3)" font-weight="bold" textLength="29.25" lengthAdjust="spacingAndGlyphs">Badkamer</text>
<text x="393.39" y="339.40" font-size="9" fill="#fff" transform="rotate(0.03 393.4 339.4)" font-weight="bold">43</text>
<text x="394.59" y="353.60" font-size="9" fill="#fff" transform="rotate(0.03 394.6 353.6)" font-weight="bold">33</text>
<text x="376.57" y="347.93" font-size="9.4" fill="#26245e" transform="rotate(0.03 376.6 347.9)" font-weight="bold">14</text>
<text x="427.70" y="326.28" font-size="5.6" fill="#2b2a7c" transform="rotate(0.03 427.7 326.3)" font-weight="bold" textLength="33.94" lengthAdjust="spacingAndGlyphs">Grootte van</text>
<text x="427.70" y="333.38" font-size="5.6" fill="#2b2a7c" transform="rotate(0.03 427.7 333.4)" font-weight="bold" textLength="29.90" lengthAdjust="spacingAndGlyphs">de woning</text>
<text x="482.89" y="339.40" font-size="9" fill="#fff" transform="rotate(0.03 482.9 339.4)" font-weight="bold">70</text>
<text x="486.60" y="353.60" font-size="9" fill="#fff" transform="rotate(0.03 486.6 353.6)" font-weight="bold">5</text>
<text x="466.07" y="347.93" font-size="9.4" fill="#26245e" transform="rotate(0.03 466.1 347.9)" font-weight="bold">15</text>
<text x="517.20" y="326.28" font-size="5.6" fill="#2b2a7c" transform="rotate(0.03 517.2 326.3)" font-weight="bold" textLength="42.01" lengthAdjust="spacingAndGlyphs">Uitstraling van</text>
<text x="517.20" y="333.38" font-size="5.6" fill="#2b2a7c" transform="rotate(0.03 517.2 333.4)" font-weight="bold" textLength="29.90" lengthAdjust="spacingAndGlyphs">de woning</text>
<text x="572.39" y="339.40" font-size="9" fill="#fff" transform="rotate(0.03 572.4 339.4)" font-weight="bold">23</text>
<text x="573.59" y="353.60" font-size="9" fill="#fff" transform="rotate(0.03 573.6 353.6)" font-weight="bold">21</text>
<text x="555.57" y="347.93" font-size="9.4" fill="#26245e" transform="rotate(0.03 555.6 347.9)" font-weight="bold">46</text>
<text x="606.70" y="326.28" font-size="5.6" fill="#2b2a7c" transform="rotate(0.03 606.7 326.3)" font-weight="bold" textLength="34.29" lengthAdjust="spacingAndGlyphs">Verwarming</text>
<text x="662.19" y="339.40" font-size="9" fill="#fff" transform="rotate(0.03 662.2 339.4)" font-weight="bold">17</text>
<text x="663.39" y="353.60" font-size="9" fill="#fff" transform="rotate(0.03 663.4 353.6)" font-weight="bold">40</text>
<text x="645.37" y="347.93" font-size="9.4" fill="#26245e" transform="rotate(0.03 645.4 347.9)" font-weight="bold">33</text>
<text x="696.20" y="326.28" font-size="5.6" fill="#2b2a7c" transform="rotate(0.03 696.2 326.3)" font-weight="bold" textLength="26.56" lengthAdjust="spacingAndGlyphs">Ventilatie</text>
<text x="752.19" y="339.40" font-size="9" fill="#fff" transform="rotate(0.03 752.2 339.4)" font-weight="bold">15</text>
<text x="753.39" y="353.60" font-size="9" fill="#fff" transform="rotate(0.03 753.4 353.6)" font-weight="bold">53</text>
<text x="735.37" y="347.93" font-size="9.4" fill="#26245e" transform="rotate(0.03 735.4 347.9)" font-weight="bold">22</text>
<text x="248.70" y="410.58" font-size="5.6" fill="#2b2a7c" transform="rotate(0.03 248.7 410.6)" font-weight="bold" textLength="21.85" lengthAdjust="spacingAndGlyphs">Keuken</text>
<text x="305.29" y="423.70" font-size="9" fill="#fff" transform="rotate(0.03 305.3 423.7)" font-weight="bold">42</text>
<text x="306.49" y="437.90" font-size="9" fill="#fff" transform="rotate(0.03 306.5 437.9)" font-weight="bold">26</text>
<text x="288.47" y="432.23" font-size="9.4" fill="#26245e" transform="rotate(0.03 288.5 432.2)" font-weight="bold">22</text>
<text x="338.20" y="410.58" font-size="5.6" fill="#2b2a7c" transform="rotate(0.03 338.2 410.6)" font-weight="bold" textLength="49.40" lengthAdjust="spacingAndGlyphs">Buitenverlichting</text>
<text x="394.79" y="423.70" font-size="9" fill="#fff" transform="rotate(0.03 394.8 423.7)" font-weight="bold">26</text>
<text x="395.99" y="437.90" font-size="9" fill="#fff" transform="rotate(0.03 396.0 437.9)" font-weight="bold">26</text>
<text x="377.97" y="432.23" font-size="9.4" fill="#26245e" transform="rotate(0.03 378.0 432.2)" font-weight="bold">38</text>
<text x="427.70" y="410.58" font-size="5.6" fill="#2b2a7c" transform="rotate(0.03 427.7 410.6)" font-weight="bold" textLength="25.20" lengthAdjust="spacingAndGlyphs">Kozijnen</text>
<text x="484.89" y="423.70" font-size="9" fill="#fff" transform="rotate(0.03 484.9 423.7)" font-weight="bold">10</text>
<text x="486.09" y="437.90" font-size="9" fill="#fff" transform="rotate(0.03 486.1 437.9)" font-weight="bold">61</text>
<text x="468.07" y="432.23" font-size="9.4" fill="#26245e" transform="rotate(0.03 468.1 432.2)" font-weight="bold">19</text>
<text x="517.20" y="410.58" font-size="5.6" fill="#2b2a7c" transform="rotate(0.03 517.2 410.6)" font-weight="bold" textLength="31.59" lengthAdjust="spacingAndGlyphs">Radiatoren</text>
<text x="574.94" y="423.70" font-size="9" fill="#fff" transform="rotate(0.03 574.9 423.7)" font-weight="bold">11</text>
<text x="575.89" y="437.90" font-size="9" fill="#fff" transform="rotate(0.03 575.9 437.9)" font-weight="bold">48</text>
<text x="557.87" y="432.23" font-size="9.4" fill="#26245e" transform="rotate(0.03 557.9 432.2)" font-weight="bold">31</text>
<text x="606.70" y="410.58" font-size="5.6" fill="#2b2a7c" transform="rotate(0.03 606.7 410.6)" font-weight="bold" textLength="20.84" lengthAdjust="spacingAndGlyphs">Isolatie</text>
<text x="666.60" y="423.70" font-size="9" fill="#fff" transform="rotate(0.03 666.6 423.7)" font-weight="bold">7</text>
<text x="665.29" y="437.90" font-size="9" fill="#fff" transform="rotate(0.03 665.3 437.9)" font-weight="bold">71</text>
<text x="647.27" y="432.23" font-size="9.4" fill="#26245e" transform="rotate(0.03 647.3 432.2)" font-weight="bold">12</text>
<text x="696.20" y="410.58" font-size="5.6" fill="#2b2a7c" transform="rotate(0.03 696.2 410.6)" font-weight="bold" textLength="12.31" lengthAdjust="spacingAndGlyphs">Tuin</text>
<text x="753.59" y="423.70" font-size="9" fill="#fff" transform="rotate(0.03 753.6 423.7)" font-weight="bold">56</text>
<text x="757.30" y="437.90" font-size="9" fill="#fff" transform="rotate(0.03 757.3 437.9)" font-weight="bold">7</text>
<text x="736.77" y="432.23" font-size="9.4" fill="#26245e" transform="rotate(0.03 736.8 432.2)" font-weight="bold">27</text>
<text x="438.05" y="372.13" font-size="5.6" fill="#e5322d" transform="rotate(0.03 438.1 372.1)" font-weight="bold">5m</text>
<text x="358.30" y="304.82" font-size="8.4" fill="#2b2a7c" transform="rotate(0.03 358.3 304.8)" font-weight="bold" textLength="177.60" lengthAdjust="spacingAndGlyphs">Tevredenheid over de verschillende ruimtes</text>
<text x="558.00" y="301.46" font-size="4.2" fill="#2b2a7c" transform="rotate(0.03 558.0 301.5)" font-weight="bold" textLength="22.00" lengthAdjust="spacingAndGlyphs">Tevreden</text>
<text x="597.30" y="301.46" font-size="4.2" fill="#2b2a7c" transform="rotate(0.03 597.3 301.5)" font-weight="bold" textLength="20.40" lengthAdjust="spacingAndGlyphs">Neutraal</text>
<text x="634.80" y="301.46" font-size="4.2" fill="#2b2a7c" transform="rotate(0.03 634.8 301.5)" font-weight="bold" textLength="27.40" lengthAdjust="spacingAndGlyphs">Ontevreden</text>
<text x="67.15" y="325.60" font-size="8" fill="#2b2a7c" transform="rotate(0.03 67.2 325.6)" font-weight="bold" textLength="50.90" lengthAdjust="spacingAndGlyphs">Maakt u zich</text>
<text x="44.56" y="336.20" font-size="8" fill="#2b2a7c" transform="rotate(0.03 44.6 336.2)" font-weight="bold" textLength="96.08" lengthAdjust="spacingAndGlyphs">zorgen over het betalen</text>
<text x="43.25" y="346.80" font-size="8" fill="#2b2a7c" transform="rotate(0.03 43.2 346.8)" font-weight="bold" textLength="98.70" lengthAdjust="spacingAndGlyphs">van uw energierekening?</text>
<text x="125.00" y="504.02" font-size="5.9" fill="#2e2d62" transform="rotate(0.03 125.0 504.0)" textLength="45.12" lengthAdjust="spacingAndGlyphs">Ja, heel erg - 23</text>
<text x="125.00" y="511.92" font-size="5.9" fill="#2e2d62" transform="rotate(0.03 125.0 511.9)" textLength="51.72" lengthAdjust="spacingAndGlyphs">Ja, een beetje - 20</text>
<text x="125.00" y="519.82" font-size="5.9" fill="#2e2d62" transform="rotate(0.03 125.0 519.8)" textLength="36.10" lengthAdjust="spacingAndGlyphs">Neutraal - 21</text>
<text x="125.00" y="527.72" font-size="5.9" fill="#2e2d62" transform="rotate(0.03 125.0 527.7)" textLength="51.02" lengthAdjust="spacingAndGlyphs">Nee, niet echt - 15</text>
<text x="125.00" y="535.62" font-size="5.9" fill="#2e2d62" transform="rotate(0.03 125.0 535.6)" textLength="64.10" lengthAdjust="spacingAndGlyphs">Nee, helemaal niet - 11</text>
<text x="351.60" y="526.50" font-size="8" fill="#2b2a7c" transform="rotate(0.03 351.6 526.5)" font-weight="bold" textLength="166.00" lengthAdjust="spacingAndGlyphs">Wat vindt u ervan dat De Goede Woning</text>
<text x="372.54" y="537.10" font-size="8" fill="#2b2a7c" transform="rotate(0.03 372.5 537.1)" font-weight="bold" textLength="124.13" lengthAdjust="spacingAndGlyphs">uw woning wil verduurzamen?</text>
<text x="278.51" y="561.28" font-size="5.6" fill="#fff" transform="rotate(0.03 278.5 561.3)" font-weight="bold" textLength="16.99" lengthAdjust="spacingAndGlyphs">Goed!</text>
<text x="274.69" y="568.38" font-size="5.6" fill="#fff" transform="rotate(0.03 274.7 568.4)" font-weight="bold" textLength="24.61" lengthAdjust="spacingAndGlyphs">Wanneer</text>
<text x="268.22" y="575.48" font-size="5.6" fill="#fff" transform="rotate(0.03 268.2 575.5)" font-weight="bold" textLength="37.57" lengthAdjust="spacingAndGlyphs">beginnen ze?</text>
<text x="279.77" y="588.67" font-size="13" fill="#fff" transform="rotate(0.03 279.8 588.7)" font-weight="bold">48</text>
<text x="360.42" y="562.88" font-size="5.6" fill="#2b2a6e" transform="rotate(0.03 360.4 562.9)" font-weight="bold" textLength="32.35" lengthAdjust="spacingAndGlyphs">Goed, maar</text>
<text x="356.67" y="569.98" font-size="5.6" fill="#2b2a6e" transform="rotate(0.03 356.7 570.0)" font-weight="bold" textLength="39.86" lengthAdjust="spacingAndGlyphs">ook spannend</text>
<text x="369.26" y="582.44" font-size="13.2" fill="#2b2a6e" transform="rotate(0.03 369.3 582.4)" font-weight="bold">22</text>
<text x="420.97" y="615.08" font-size="5.6" fill="#2b2a6e" transform="rotate(0.03 421.0 615.1)" font-weight="bold" textLength="16.66" lengthAdjust="spacingAndGlyphs">Goed,</text>
<text x="407.08" y="622.08" font-size="5.6" fill="#2b2a6e" transform="rotate(0.03 407.1 622.1)" font-weight="bold" textLength="44.44" lengthAdjust="spacingAndGlyphs">maar niet in alle</text>
<text x="407.56" y="629.08" font-size="5.6" fill="#2b2a6e" transform="rotate(0.03 407.6 629.1)" font-weight="bold" textLength="43.47" lengthAdjust="spacingAndGlyphs">ruimtes/kamers</text>
<text x="425.68" y="641.87" font-size="13" fill="#2b2a6e" transform="rotate(0.03 425.7 641.9)" font-weight="bold">4</text>
<text x="544.84" y="533.28" font-size="5.6" fill="#2b2a6e" transform="rotate(0.03 544.8 533.3)" font-weight="bold" textLength="27.11" lengthAdjust="spacingAndGlyphs">Het wordt</text>
<text x="546.47" y="540.48" font-size="5.6" fill="#2b2a6e" transform="rotate(0.03 546.5 540.5)" font-weight="bold" textLength="23.85" lengthAdjust="spacingAndGlyphs">eens tijd</text>
<text x="551.06" y="553.54" font-size="13.2" fill="#2b2a6e" transform="rotate(0.03 551.1 553.5)" font-weight="bold">16</text>
<text x="499.26" y="614.08" font-size="5.6" fill="#2b2a6e" transform="rotate(0.03 499.3 614.1)" font-weight="bold" textLength="25.48" lengthAdjust="spacingAndGlyphs">Het hoeft</text>
<text x="495.83" y="621.08" font-size="5.6" fill="#2b2a6e" transform="rotate(0.03 495.8 621.1)" font-weight="bold" textLength="32.35" lengthAdjust="spacingAndGlyphs">van mij niet</text>
<text x="508.33" y="633.34" font-size="13.2" fill="#2b2a6e" transform="rotate(0.03 508.3 633.3)" font-weight="bold">0</text>
<text x="778.45" y="539.80" font-size="8" fill="#2b2a7c" transform="rotate(0.03 778.5 539.8)" font-weight="bold" textLength="61.69" lengthAdjust="spacingAndGlyphs">Welke klachten</text>
<text x="761.30" y="549.80" font-size="8" fill="#2b2a7c" transform="rotate(0.03 761.3 549.8)" font-weight="bold" textLength="96.00" lengthAdjust="spacingAndGlyphs">hebben de bewoners?*</text>
<text x="723.37" y="575.74" font-size="5.8" fill="#2b2a7c" transform="rotate(0.03 723.4 575.7)" font-weight="bold" textLength="32.45" lengthAdjust="spacingAndGlyphs">Ongedierte</text>
<text x="733.00" y="590.61" font-size="13.4" fill="#2b2a7c" transform="rotate(0.03 733.0 590.6)" font-weight="bold" textLength="15.20" lengthAdjust="spacingAndGlyphs">29</text>
<text x="784.08" y="583.74" font-size="5.8" fill="#2b4a9c" transform="rotate(0.03 784.1 583.7)" font-weight="bold" textLength="29.04" lengthAdjust="spacingAndGlyphs">Schimmel</text>
<text x="791.00" y="598.21" font-size="13.4" fill="#2b2a7c" transform="rotate(0.03 791.0 598.2)" font-weight="bold" textLength="15.20" lengthAdjust="spacingAndGlyphs">48</text>
<text x="837.26" y="597.14" font-size="5.8" fill="#33365e" transform="rotate(0.03 837.3 597.1)" font-weight="bold" textLength="16.28" lengthAdjust="spacingAndGlyphs">Tocht</text>
<text x="855.80" y="598.21" font-size="13.4" fill="#2b2a7c" transform="rotate(0.03 855.8 598.2)" font-weight="bold" textLength="15.20" lengthAdjust="spacingAndGlyphs">52</text>
<text x="899.14" y="556.14" font-size="5.8" fill="#2b2a7c" transform="rotate(0.03 899.1 556.1)" font-weight="bold" textLength="29.72" lengthAdjust="spacingAndGlyphs">Kou vanaf</text>
<text x="900.33" y="563.54" font-size="5.8" fill="#2b2a7c" transform="rotate(0.03 900.3 563.5)" font-weight="bold" textLength="27.34" lengthAdjust="spacingAndGlyphs">het raam/</text>
<text x="897.94" y="570.94" font-size="5.8" fill="#2b2a7c" transform="rotate(0.03 897.9 570.9)" font-weight="bold" textLength="32.12" lengthAdjust="spacingAndGlyphs">raamkozijn</text>
<text x="905.80" y="587.61" font-size="13.4" fill="#2b2a7c" transform="rotate(0.03 905.8 587.6)" font-weight="bold" textLength="15.20" lengthAdjust="spacingAndGlyphs">71</text>
<text x="708.86" y="617.74" font-size="5.8" fill="#2b2a7c" transform="rotate(0.03 708.9 617.7)" font-weight="bold" textLength="21.87" lengthAdjust="spacingAndGlyphs">Slechte</text>
<text x="700.33" y="624.94" font-size="5.8" fill="#2b2a7c" transform="rotate(0.03 700.3 624.9)" font-weight="bold" textLength="38.95" lengthAdjust="spacingAndGlyphs">luchtkwaliteit</text>
<text x="712.00" y="638.81" font-size="13.4" fill="#2b2a7c" transform="rotate(0.03 712.0 638.8)" font-weight="bold" textLength="15.20" lengthAdjust="spacingAndGlyphs">26</text>
<text x="776.09" y="619.44" font-size="5.8" fill="#fff" transform="rotate(0.03 776.1 619.4)" font-weight="bold" textLength="16.62" lengthAdjust="spacingAndGlyphs">Vocht</text>
<text x="775.00" y="634.01" font-size="13.4" fill="#2b2a7c" transform="rotate(0.03 775.0 634.0)" font-weight="bold" textLength="15.20" lengthAdjust="spacingAndGlyphs">61</text>
<text x="835.76" y="636.94" font-size="5.8" fill="#3b3a8e" transform="rotate(0.03 835.8 636.9)" font-weight="bold" textLength="25.28" lengthAdjust="spacingAndGlyphs">Gehorig/</text>
<text x="836.62" y="644.94" font-size="5.8" fill="#3b3a8e" transform="rotate(0.03 836.6 644.9)" font-weight="bold" textLength="23.57" lengthAdjust="spacingAndGlyphs">geluids-</text>
<text x="836.61" y="652.94" font-size="5.8" fill="#3b3a8e" transform="rotate(0.03 836.6 652.9)" font-weight="bold" textLength="23.58" lengthAdjust="spacingAndGlyphs">overlast</text>
<text x="840.80" y="668.21" font-size="13.4" fill="#2b2a7c" transform="rotate(0.03 840.8 668.2)" font-weight="bold" textLength="15.20" lengthAdjust="spacingAndGlyphs">33</text>
<text x="893.06" y="608.54" font-size="5.8" fill="#2b2a7c" transform="rotate(0.03 893.1 608.5)" font-weight="bold" textLength="21.87" lengthAdjust="spacingAndGlyphs">Slechte</text>
<text x="883.67" y="615.94" font-size="5.8" fill="#2b2a7c" transform="rotate(0.03 883.7 615.9)" font-weight="bold" textLength="40.66" lengthAdjust="spacingAndGlyphs">staat kozijnen</text>
<text x="896.80" y="629.41" font-size="13.4" fill="#2b2a7c" transform="rotate(0.03 896.8 629.4)" font-weight="bold" textLength="15.20" lengthAdjust="spacingAndGlyphs">55</text>
<text x="959.01" y="610.34" font-size="5.8" fill="#2b2a7c" transform="rotate(0.03 959.0 610.3)" font-weight="bold" textLength="21.18" lengthAdjust="spacingAndGlyphs">Andere</text>
<text x="962.40" y="624.21" font-size="13.4" fill="#2b2a7c" transform="rotate(0.03 962.4 624.2)" font-weight="bold" textLength="15.20" lengthAdjust="spacingAndGlyphs">16</text>
<text x="921.71" y="651.14" font-size="5.8" fill="#fff" transform="rotate(0.03 921.7 651.1)" font-weight="bold" textLength="15.38" lengthAdjust="spacingAndGlyphs">Geen</text>
<text x="925.60" y="665.81" font-size="13.4" fill="#fff" transform="rotate(0.03 925.6 665.8)" font-weight="bold" textLength="7.60" lengthAdjust="spacingAndGlyphs">4</text>
<text x="728.81" y="662.34" font-size="5.8" fill="#fff" transform="rotate(0.03 728.8 662.3)" font-weight="bold" textLength="29.38" lengthAdjust="spacingAndGlyphs">Stilstaand</text>
<text x="727.10" y="669.94" font-size="5.8" fill="#fff" transform="rotate(0.03 727.1 669.9)" font-weight="bold" textLength="32.80" lengthAdjust="spacingAndGlyphs">regenwater</text>
<text x="735.90" y="684.41" font-size="13.4" fill="#fff" transform="rotate(0.03 735.9 684.4)" font-weight="bold" textLength="15.20" lengthAdjust="spacingAndGlyphs">17</text>
<text x="783.74" y="685.94" font-size="5.8" fill="#2b2a7c" transform="rotate(0.03 783.7 685.9)" font-weight="bold" textLength="32.12" lengthAdjust="spacingAndGlyphs">Lekkage(s)</text>
<text x="802.80" y="676.41" font-size="13.4" fill="#2b2a7c" transform="rotate(0.03 802.8 676.4)" font-weight="bold" textLength="15.20" lengthAdjust="spacingAndGlyphs">29</text>
<text x="871.17" y="679.54" font-size="5.8" fill="#2b2a7c" transform="rotate(0.03 871.2 679.5)" font-weight="bold" textLength="34.85" lengthAdjust="spacingAndGlyphs">Klemmende</text>
<text x="868.27" y="686.94" font-size="5.8" fill="#2b2a7c" transform="rotate(0.03 868.3 686.9)" font-weight="bold" textLength="40.66" lengthAdjust="spacingAndGlyphs">deuren/ramen</text>
<text x="881.00" y="700.81" font-size="13.4" fill="#2b2a7c" transform="rotate(0.03 881.0 700.8)" font-weight="bold" textLength="15.20" lengthAdjust="spacingAndGlyphs">50</text>
<text x="369.00" y="694.52" font-size="8.4" fill="#2b2a6e" transform="rotate(0.03 369.0 694.5)" textLength="263.00" lengthAdjust="spacingAndGlyphs">De getallen genoemd in deze BiK geven de absolute getallen weer.</text>
<text x="421.70" y="704.67" font-size="5.9" fill="#2b2a6e" transform="rotate(0.03 421.7 704.7)" font-style="italic" textLength="158.00" lengthAdjust="spacingAndGlyphs">*Bewoners konden hier meerdere antwoorden geven.</text>
<text x="71.00" y="701.62" font-size="10.8" fill="#4a4b8a" transform="rotate(0.03 71.0 701.6)" textLength="14.78" lengthAdjust="spacingAndGlyphs">DE</text>
<text x="85.98" y="701.62" font-size="10.8" fill="#2b2a7c" transform="rotate(0.03 86.0 701.6)" font-weight="bold" textLength="38.42" lengthAdjust="spacingAndGlyphs">GOEDE</text>
<text x="124.60" y="701.62" font-size="10.8" fill="#4a4b8a" transform="rotate(0.03 124.6 701.6)" textLength="44.91" lengthAdjust="spacingAndGlyphs">WONING</text>
<text x="985.04" y="395.48" font-size="4.6" fill="#3b2a6a" transform="rotate(0.03 985.0 395.5)" font-weight="bold" font-style="italic">gas</text>
</g>
</svg>
</div></body></html>
